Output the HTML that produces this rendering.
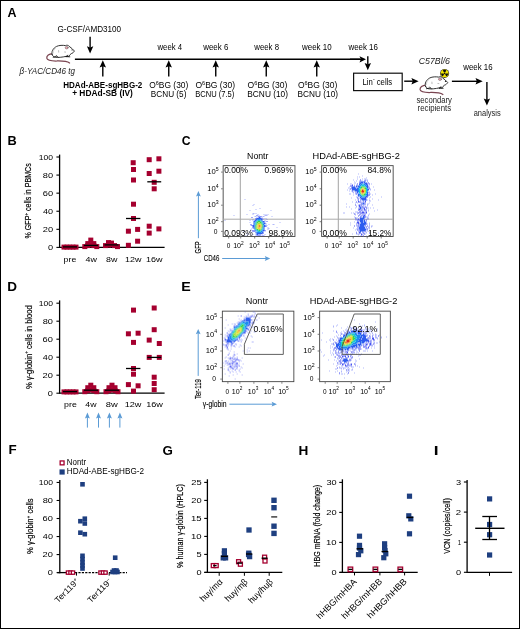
<!DOCTYPE html>
<html><head><meta charset="utf-8"><style>
html,body{margin:0;padding:0;background:#fff;}
#f{position:relative;width:520px;height:629px;box-sizing:border-box;border:1px solid #000;border-bottom-width:1.5px;overflow:hidden;background:#fff;}
svg{position:absolute;left:-1px;top:-1px;filter:blur(0.3px);}
text{font-family:'Liberation Sans', sans-serif;}
</style></head><body><div id="f">
<svg width="520" height="629" viewBox="0 0 520 629" font-family="'Liberation Sans', sans-serif">
<defs><filter id="bl" x="-5%" y="-5%" width="110%" height="110%"><feGaussianBlur stdDeviation="0.35"/></filter></defs>
<text x="7.59" y="17.40" font-size="12.0" textLength="9.04" lengthAdjust="spacingAndGlyphs" font-weight="bold">A</text>
<text x="57.49" y="31.50" font-size="8.25" textLength="63.63" lengthAdjust="spacingAndGlyphs">G-CSF/AMD3100</text>
<line x1="90.10" y1="36.80" x2="90.10" y2="47.80" stroke="#000" stroke-width="1.4"/>
<path d="M90.10,53.50 L86.90,46.30 L90.10,47.60 L93.30,46.30 Z" fill="#000"/>
<line x1="74.90" y1="59.30" x2="360.00" y2="59.30" stroke="#000" stroke-width="1.4"/>
<line x1="350.00" y1="59.30" x2="361.00" y2="59.30" stroke="#000" stroke-width="1.4"/>
<path d="M366.00,59.30 L359.50,62.40 L360.80,59.30 L359.50,56.20 Z" fill="#000"/>
<line x1="102.80" y1="76.50" x2="102.80" y2="66.00" stroke="#000" stroke-width="1.4"/>
<path d="M102.80,60.30 L106.00,67.50 L102.80,66.20 L99.60,67.50 Z" fill="#000"/>
<line x1="168.75" y1="76.50" x2="168.75" y2="66.00" stroke="#000" stroke-width="1.4"/>
<path d="M168.75,60.30 L171.95,67.50 L168.75,66.20 L165.55,67.50 Z" fill="#000"/>
<line x1="215.75" y1="76.50" x2="215.75" y2="66.00" stroke="#000" stroke-width="1.4"/>
<path d="M215.75,60.30 L218.95,67.50 L215.75,66.20 L212.55,67.50 Z" fill="#000"/>
<line x1="266.25" y1="76.50" x2="266.25" y2="66.00" stroke="#000" stroke-width="1.4"/>
<path d="M266.25,60.30 L269.45,67.50 L266.25,66.20 L263.05,67.50 Z" fill="#000"/>
<line x1="316.75" y1="76.50" x2="316.75" y2="66.00" stroke="#000" stroke-width="1.4"/>
<path d="M316.75,60.30 L319.95,67.50 L316.75,66.20 L313.55,67.50 Z" fill="#000"/>
<line x1="367.80" y1="56.20" x2="367.80" y2="64.50" stroke="#000" stroke-width="1.4"/>
<path d="M367.80,70.20 L364.60,63.00 L367.80,64.30 L371.00,63.00 Z" fill="#000"/>
<text x="157.51" y="49.90" font-size="8.25" textLength="24.52" lengthAdjust="spacingAndGlyphs">week 4</text>
<text x="203.21" y="49.90" font-size="8.25" textLength="25.14" lengthAdjust="spacingAndGlyphs">week 6</text>
<text x="254.31" y="49.90" font-size="8.25" textLength="24.73" lengthAdjust="spacingAndGlyphs">week 8</text>
<text x="302.01" y="49.90" font-size="8.25" textLength="29.60" lengthAdjust="spacingAndGlyphs">week 10</text>
<text x="348.41" y="49.90" font-size="8.25" textLength="29.54" lengthAdjust="spacingAndGlyphs">week 16</text>
<text x="149.20" y="87.80" font-size="8.25" textLength="39.12" lengthAdjust="spacingAndGlyphs">O<tspan font-size="5.42" dy="-3.28">6</tspan><tspan dy="3.28">BG (30)</tspan></text>
<text x="150.83" y="96.90" font-size="8.25" textLength="35.58" lengthAdjust="spacingAndGlyphs">BCNU (5)</text>
<text x="195.40" y="87.80" font-size="8.25" textLength="39.63" lengthAdjust="spacingAndGlyphs">O<tspan font-size="5.42" dy="-3.28">6</tspan><tspan dy="3.28">BG (30)</tspan></text>
<text x="195.18" y="96.90" font-size="8.25" textLength="39.09" lengthAdjust="spacingAndGlyphs">BCNU (7.5)</text>
<text x="247.59" y="87.80" font-size="8.25" textLength="39.74" lengthAdjust="spacingAndGlyphs">O<tspan font-size="5.42" dy="-3.28">6</tspan><tspan dy="3.28">BG (30)</tspan></text>
<text x="247.32" y="96.90" font-size="8.25" textLength="40.70" lengthAdjust="spacingAndGlyphs">BCNU (10)</text>
<text x="297.90" y="87.80" font-size="8.25" textLength="39.43" lengthAdjust="spacingAndGlyphs">O<tspan font-size="5.42" dy="-3.28">6</tspan><tspan dy="3.28">BG (30)</tspan></text>
<text x="297.62" y="96.90" font-size="8.25" textLength="40.39" lengthAdjust="spacingAndGlyphs">BCNU (10)</text>
<text x="63.26" y="87.60" font-size="8.59" textLength="79.06" lengthAdjust="spacingAndGlyphs" font-weight="bold">HDAd-ABE-sgHBG-2</text>
<text x="72.15" y="96.20" font-size="8.59" textLength="60.77" lengthAdjust="spacingAndGlyphs" font-weight="bold">+ HDAd-SB (IV)</text>
<text x="19.61" y="73.80" font-size="8.25" textLength="55.35" lengthAdjust="spacingAndGlyphs" font-style="italic" fill="#222">&#946;-YAC/CD46 tg</text>
<g transform="translate(0.00,0.00)" stroke-linecap="round" stroke-linejoin="round"><path d="M52.8,53.6 C49,53.8 46.4,55.6 46.8,58.2 C47.4,60.8 52,61.1 57,61 C62,60.9 66.5,60.8 69.6,63" fill="none" stroke="#7a4450" stroke-width="1.25"/><path d="M52.2,54.8 C51,52 53,48.2 56.6,46.4 C59,45.2 63,45.1 65.4,45.6 C67,44.9 68.6,45.3 69.1,46.3 C71,47.5 73,49.4 74.4,51 C73.6,52.4 72.6,53.3 71.3,53.6 C70,54.5 69.3,55.4 68.7,56.4 L66.4,56.3 C62,57.3 58,57.6 55.6,57.3 C54,57.2 53,56.4 52.2,54.8 Z" fill="#fff" stroke="#2a2a2a" stroke-width="0.95"/><path d="M56,47.5 C54,49 53,51 53.2,53" fill="none" stroke="#aaa" stroke-width="0.5"/><ellipse cx="66.7" cy="47.7" rx="1.5" ry="1.25" fill="#f3a9b4" stroke="#555" stroke-width="0.5"/><path d="M53.2,57.2 L56,56.6 M58,57.4 L56.5,55.6 M66,56.6 L69.8,56.8 M67.5,55.2 L66.4,56.8" fill="none" stroke="#111" stroke-width="0.9"/><path d="M58.6,50.6 L58.7,52.2 M64.6,52 L65.6,52.1" fill="none" stroke="#777" stroke-width="0.5"/><circle cx="72.1" cy="49.9" r="0.55" fill="#111"/></g>
<rect x="353.6" y="73.2" width="48.6" height="17.4" fill="#fff" stroke="#111" stroke-width="1.2"/>
<text x="362.57" y="84.60" font-size="8.25" textLength="29.61" lengthAdjust="spacingAndGlyphs">Lin<tspan font-size="5.42" dy="-3.28">-</tspan><tspan dy="3.28"> cells</tspan></text>
<line x1="404.20" y1="81.20" x2="412.90" y2="81.20" stroke="#000" stroke-width="1.4"/>
<path d="M418.60,81.20 L411.40,84.40 L412.70,81.20 L411.40,78.00 Z" fill="#000"/>
<g transform="translate(373.30,31.50)" stroke-linecap="round" stroke-linejoin="round"><path d="M52.8,53.6 C49,53.8 46.4,55.6 46.8,58.2 C47.4,60.8 52,61.1 57,61 C62,60.9 66.5,60.8 69.6,63" fill="none" stroke="#7a4450" stroke-width="1.25"/><path d="M52.2,54.8 C51,52 53,48.2 56.6,46.4 C59,45.2 63,45.1 65.4,45.6 C67,44.9 68.6,45.3 69.1,46.3 C71,47.5 73,49.4 74.4,51 C73.6,52.4 72.6,53.3 71.3,53.6 C70,54.5 69.3,55.4 68.7,56.4 L66.4,56.3 C62,57.3 58,57.6 55.6,57.3 C54,57.2 53,56.4 52.2,54.8 Z" fill="#fff" stroke="#2a2a2a" stroke-width="0.95"/><path d="M56,47.5 C54,49 53,51 53.2,53" fill="none" stroke="#aaa" stroke-width="0.5"/><ellipse cx="66.7" cy="47.7" rx="1.5" ry="1.25" fill="#f3a9b4" stroke="#555" stroke-width="0.5"/><path d="M53.2,57.2 L56,56.6 M58,57.4 L56.5,55.6 M66,56.6 L69.8,56.8 M67.5,55.2 L66.4,56.8" fill="none" stroke="#111" stroke-width="0.9"/><path d="M58.6,50.6 L58.7,52.2 M64.6,52 L65.6,52.1" fill="none" stroke="#777" stroke-width="0.5"/><circle cx="72.1" cy="49.9" r="0.55" fill="#111"/></g>
<circle cx="444.6" cy="73.4" r="4.5" fill="#222"/>
<circle cx="444.6" cy="73.4" r="3.9" fill="#f0e400"/>
<path d="M444.05,72.45 L442.80,70.28 A3.6,3.6 0 0 1 446.40,70.28 L445.15,72.45 Z" fill="#111"/>
<path d="M445.70,73.40 L448.20,73.40 A3.6,3.6 0 0 1 446.40,76.52 L445.15,74.35 Z" fill="#111"/>
<path d="M444.05,74.35 L442.80,76.52 A3.6,3.6 0 0 1 441.00,73.40 L443.50,73.40 Z" fill="#111"/>
<circle cx="444.6" cy="73.4" r="0.75" fill="#111"/>
<text x="418.71" y="64.40" font-size="8.25" textLength="31.29" lengthAdjust="spacingAndGlyphs" font-style="italic" fill="#222">C57Bl/6</text>
<text x="416.49" y="103.10" font-size="8.25" textLength="35.43" lengthAdjust="spacingAndGlyphs" fill="#222">secondary</text>
<text x="417.58" y="111.40" font-size="8.25" textLength="33.50" lengthAdjust="spacingAndGlyphs" fill="#222">recipients</text>
<line x1="451.90" y1="81.30" x2="477.00" y2="81.30" stroke="#000" stroke-width="1.4"/>
<path d="M482.70,81.30 L475.50,84.50 L476.80,81.30 L475.50,78.10 Z" fill="#000"/>
<text x="463.31" y="70.00" font-size="8.25" textLength="29.33" lengthAdjust="spacingAndGlyphs">week 16</text>
<line x1="486.90" y1="81.90" x2="486.90" y2="99.90" stroke="#000" stroke-width="1.4"/>
<path d="M486.90,105.60 L483.70,98.40 L486.90,99.70 L490.10,98.40 Z" fill="#000"/>
<text x="473.68" y="115.60" font-size="8.25" textLength="26.99" lengthAdjust="spacingAndGlyphs" fill="#222">analysis</text>
<text x="7.44" y="145.00" font-size="12.0" textLength="9.24" lengthAdjust="spacingAndGlyphs" font-weight="bold">B</text>
<line x1="59.60" y1="154.60" x2="59.60" y2="248.00" stroke="#000" stroke-width="1.3"/>
<line x1="56.40" y1="247.40" x2="59.60" y2="247.40" stroke="#000" stroke-width="1.1"/>
<text x="47.94" y="249.90" font-size="7.91" textLength="5.12" lengthAdjust="spacingAndGlyphs">0</text>
<line x1="56.40" y1="229.32" x2="59.60" y2="229.32" stroke="#000" stroke-width="1.1"/>
<text x="42.73" y="231.82" font-size="7.91" textLength="10.33" lengthAdjust="spacingAndGlyphs">20</text>
<line x1="56.40" y1="211.24" x2="59.60" y2="211.24" stroke="#000" stroke-width="1.1"/>
<text x="42.99" y="213.74" font-size="7.91" textLength="10.06" lengthAdjust="spacingAndGlyphs">40</text>
<line x1="56.40" y1="193.16" x2="59.60" y2="193.16" stroke="#000" stroke-width="1.1"/>
<text x="42.73" y="195.66" font-size="7.91" textLength="10.33" lengthAdjust="spacingAndGlyphs">60</text>
<line x1="56.40" y1="175.08" x2="59.60" y2="175.08" stroke="#000" stroke-width="1.1"/>
<text x="42.80" y="177.58" font-size="7.91" textLength="10.26" lengthAdjust="spacingAndGlyphs">80</text>
<line x1="56.40" y1="157.00" x2="59.60" y2="157.00" stroke="#000" stroke-width="1.1"/>
<text x="38.75" y="159.50" font-size="7.91" textLength="14.29" lengthAdjust="spacingAndGlyphs">100</text>
<line x1="59.60" y1="247.40" x2="164.60" y2="247.40" stroke="#000" stroke-width="1.3"/>
<text x="63.64" y="261.60" font-size="7.91" textLength="12.65" lengthAdjust="spacingAndGlyphs">pre</text>
<text x="85.60" y="261.60" font-size="7.91" textLength="11.38" lengthAdjust="spacingAndGlyphs">4w</text>
<text x="106.11" y="261.60" font-size="7.91" textLength="11.36" lengthAdjust="spacingAndGlyphs">8w</text>
<text x="124.92" y="261.60" font-size="7.91" textLength="16.46" lengthAdjust="spacingAndGlyphs">12w</text>
<text x="146.01" y="261.60" font-size="7.91" textLength="16.57" lengthAdjust="spacingAndGlyphs">16w</text>
<text transform="translate(31.10,238.20) rotate(-90)" x="-0.25" y="0" font-size="8.2" textLength="75.21" lengthAdjust="spacingAndGlyphs" stroke="#000" stroke-width="0.18">% GFP<tspan font-size="5.2" dy="-3.00">+</tspan><tspan dy="3.00"> cells in PBMCs</tspan></text>
<rect x="61.50" y="244.60" width="5" height="5" fill="#A5002F"/>
<rect x="64.50" y="244.60" width="5" height="5" fill="#A5002F"/>
<rect x="67.50" y="244.60" width="5" height="5" fill="#A5002F"/>
<rect x="70.50" y="244.60" width="5" height="5" fill="#A5002F"/>
<rect x="73.50" y="244.60" width="5" height="5" fill="#A5002F"/>
<rect x="82.30" y="244.10" width="5" height="5" fill="#A5002F"/>
<rect x="85.30" y="243.10" width="5" height="5" fill="#A5002F"/>
<rect x="88.30" y="242.10" width="5" height="5" fill="#A5002F"/>
<rect x="91.30" y="243.10" width="5" height="5" fill="#A5002F"/>
<rect x="94.30" y="244.10" width="5" height="5" fill="#A5002F"/>
<rect x="88.30" y="237.60" width="5" height="5" fill="#A5002F"/>
<rect x="85.30" y="241.10" width="5" height="5" fill="#A5002F"/>
<rect x="91.30" y="241.10" width="5" height="5" fill="#A5002F"/>
<rect x="103.00" y="243.10" width="5" height="5" fill="#A5002F"/>
<rect x="106.00" y="242.60" width="5" height="5" fill="#A5002F"/>
<rect x="109.00" y="242.10" width="5" height="5" fill="#A5002F"/>
<rect x="112.00" y="243.10" width="5" height="5" fill="#A5002F"/>
<rect x="115.00" y="244.10" width="5" height="5" fill="#A5002F"/>
<rect x="106.00" y="240.10" width="5" height="5" fill="#A5002F"/>
<rect x="109.00" y="240.60" width="5" height="5" fill="#A5002F"/>
<rect x="130.70" y="160.20" width="5" height="5" fill="#A5002F"/>
<rect x="131.00" y="167.00" width="5" height="5" fill="#A5002F"/>
<rect x="131.00" y="177.50" width="5" height="5" fill="#A5002F"/>
<rect x="131.00" y="201.70" width="5" height="5" fill="#A5002F"/>
<rect x="131.00" y="216.00" width="5" height="5" fill="#A5002F"/>
<rect x="125.90" y="228.70" width="5" height="5" fill="#A5002F"/>
<rect x="135.10" y="226.90" width="5" height="5" fill="#A5002F"/>
<rect x="135.10" y="238.70" width="5" height="5" fill="#A5002F"/>
<rect x="125.90" y="242.80" width="5" height="5" fill="#A5002F"/>
<rect x="146.70" y="157.20" width="5" height="5" fill="#A5002F"/>
<rect x="156.40" y="156.30" width="5" height="5" fill="#A5002F"/>
<rect x="146.70" y="171.00" width="5" height="5" fill="#A5002F"/>
<rect x="156.40" y="168.70" width="5" height="5" fill="#A5002F"/>
<rect x="151.70" y="179.80" width="5" height="5" fill="#A5002F"/>
<rect x="151.70" y="186.30" width="5" height="5" fill="#A5002F"/>
<rect x="146.70" y="223.70" width="5" height="5" fill="#A5002F"/>
<rect x="156.40" y="226.40" width="5" height="5" fill="#A5002F"/>
<rect x="146.70" y="230.60" width="5" height="5" fill="#A5002F"/>
<line x1="63.00" y1="246.90" x2="77.00" y2="246.90" stroke="#000" stroke-width="1.3"/>
<line x1="84.00" y1="245.40" x2="98.00" y2="245.40" stroke="#000" stroke-width="1.3"/>
<line x1="104.50" y1="244.90" x2="118.50" y2="244.90" stroke="#000" stroke-width="1.3"/>
<line x1="126.00" y1="218.50" x2="140.40" y2="218.50" stroke="#000" stroke-width="1.3"/>
<line x1="147.30" y1="181.80" x2="161.20" y2="181.80" stroke="#000" stroke-width="1.3"/>
<text x="7.19" y="290.80" font-size="12.0" textLength="9.77" lengthAdjust="spacingAndGlyphs" font-weight="bold">D</text>
<line x1="59.60" y1="300.40" x2="59.60" y2="393.80" stroke="#000" stroke-width="1.3"/>
<line x1="56.40" y1="393.20" x2="59.60" y2="393.20" stroke="#000" stroke-width="1.1"/>
<text x="47.84" y="395.70" font-size="7.91" textLength="5.12" lengthAdjust="spacingAndGlyphs">0</text>
<line x1="56.40" y1="375.20" x2="59.60" y2="375.20" stroke="#000" stroke-width="1.1"/>
<text x="42.63" y="377.70" font-size="7.91" textLength="10.33" lengthAdjust="spacingAndGlyphs">20</text>
<line x1="56.40" y1="357.20" x2="59.60" y2="357.20" stroke="#000" stroke-width="1.1"/>
<text x="42.89" y="359.70" font-size="7.91" textLength="10.06" lengthAdjust="spacingAndGlyphs">40</text>
<line x1="56.40" y1="339.20" x2="59.60" y2="339.20" stroke="#000" stroke-width="1.1"/>
<text x="42.63" y="341.70" font-size="7.91" textLength="10.33" lengthAdjust="spacingAndGlyphs">60</text>
<line x1="56.40" y1="321.20" x2="59.60" y2="321.20" stroke="#000" stroke-width="1.1"/>
<text x="42.70" y="323.70" font-size="7.91" textLength="10.26" lengthAdjust="spacingAndGlyphs">80</text>
<line x1="56.40" y1="303.20" x2="59.60" y2="303.20" stroke="#000" stroke-width="1.1"/>
<text x="38.65" y="305.70" font-size="7.91" textLength="14.29" lengthAdjust="spacingAndGlyphs">100</text>
<line x1="59.60" y1="393.20" x2="164.60" y2="393.20" stroke="#000" stroke-width="1.3"/>
<text x="64.13" y="406.50" font-size="7.91" textLength="12.76" lengthAdjust="spacingAndGlyphs">pre</text>
<text x="85.30" y="406.50" font-size="7.91" textLength="11.18" lengthAdjust="spacingAndGlyphs">4w</text>
<text x="105.79" y="406.50" font-size="7.91" textLength="11.98" lengthAdjust="spacingAndGlyphs">8w</text>
<text x="124.70" y="406.50" font-size="7.91" textLength="16.77" lengthAdjust="spacingAndGlyphs">12w</text>
<text x="146.20" y="406.50" font-size="7.91" textLength="16.77" lengthAdjust="spacingAndGlyphs">16w</text>
<text transform="translate(31.50,388.80) rotate(-90)" x="-0.22" y="0" font-size="8.6" textLength="83.61" lengthAdjust="spacingAndGlyphs" stroke="#000" stroke-width="0.18">% &#947;-globin<tspan font-size="5.4" dy="-3.20">+</tspan><tspan dy="3.20"> cells in blood</tspan></text>
<rect x="61.50" y="389.40" width="5" height="5" fill="#A5002F"/>
<rect x="64.50" y="389.40" width="5" height="5" fill="#A5002F"/>
<rect x="67.50" y="389.40" width="5" height="5" fill="#A5002F"/>
<rect x="70.50" y="389.40" width="5" height="5" fill="#A5002F"/>
<rect x="73.50" y="389.40" width="5" height="5" fill="#A5002F"/>
<rect x="82.30" y="389.20" width="5" height="5" fill="#A5002F"/>
<rect x="85.30" y="388.20" width="5" height="5" fill="#A5002F"/>
<rect x="88.30" y="387.20" width="5" height="5" fill="#A5002F"/>
<rect x="91.30" y="388.20" width="5" height="5" fill="#A5002F"/>
<rect x="94.30" y="389.20" width="5" height="5" fill="#A5002F"/>
<rect x="88.30" y="382.70" width="5" height="5" fill="#A5002F"/>
<rect x="85.30" y="385.20" width="5" height="5" fill="#A5002F"/>
<rect x="91.30" y="385.20" width="5" height="5" fill="#A5002F"/>
<rect x="103.50" y="389.20" width="5" height="5" fill="#A5002F"/>
<rect x="106.50" y="388.20" width="5" height="5" fill="#A5002F"/>
<rect x="109.50" y="387.20" width="5" height="5" fill="#A5002F"/>
<rect x="112.50" y="388.20" width="5" height="5" fill="#A5002F"/>
<rect x="115.50" y="389.20" width="5" height="5" fill="#A5002F"/>
<rect x="109.50" y="382.70" width="5" height="5" fill="#A5002F"/>
<rect x="106.50" y="385.20" width="5" height="5" fill="#A5002F"/>
<rect x="112.50" y="385.20" width="5" height="5" fill="#A5002F"/>
<rect x="131.00" y="307.60" width="5" height="5" fill="#A5002F"/>
<rect x="125.90" y="331.30" width="5" height="5" fill="#A5002F"/>
<rect x="135.60" y="330.70" width="5" height="5" fill="#A5002F"/>
<rect x="131.00" y="339.90" width="5" height="5" fill="#A5002F"/>
<rect x="131.00" y="366.00" width="5" height="5" fill="#A5002F"/>
<rect x="131.00" y="371.70" width="5" height="5" fill="#A5002F"/>
<rect x="125.90" y="382.10" width="5" height="5" fill="#A5002F"/>
<rect x="135.60" y="383.30" width="5" height="5" fill="#A5002F"/>
<rect x="131.00" y="388.60" width="5" height="5" fill="#A5002F"/>
<rect x="151.70" y="305.50" width="5" height="5" fill="#A5002F"/>
<rect x="151.70" y="327.20" width="5" height="5" fill="#A5002F"/>
<rect x="146.70" y="337.60" width="5" height="5" fill="#A5002F"/>
<rect x="156.80" y="341.00" width="5" height="5" fill="#A5002F"/>
<rect x="146.70" y="354.90" width="5" height="5" fill="#A5002F"/>
<rect x="156.80" y="354.90" width="5" height="5" fill="#A5002F"/>
<rect x="151.70" y="374.70" width="5" height="5" fill="#A5002F"/>
<rect x="151.70" y="381.00" width="5" height="5" fill="#A5002F"/>
<rect x="151.70" y="387.20" width="5" height="5" fill="#A5002F"/>
<line x1="63.00" y1="391.60" x2="77.00" y2="391.60" stroke="#000" stroke-width="1.3"/>
<line x1="84.00" y1="390.20" x2="98.00" y2="390.20" stroke="#000" stroke-width="1.3"/>
<line x1="105.00" y1="390.20" x2="119.00" y2="390.20" stroke="#000" stroke-width="1.3"/>
<line x1="126.00" y1="368.50" x2="140.40" y2="368.50" stroke="#000" stroke-width="1.3"/>
<line x1="147.30" y1="357.40" x2="161.20" y2="357.40" stroke="#000" stroke-width="1.3"/>
<line x1="87.40" y1="427.60" x2="87.40" y2="417.10" stroke="#5B9BD5" stroke-width="1.0"/>
<path d="M87.40,412.40 L89.90,418.60 L87.40,417.60 L84.90,418.60 Z" fill="#5B9BD5"/>
<line x1="98.50" y1="427.60" x2="98.50" y2="417.10" stroke="#5B9BD5" stroke-width="1.0"/>
<path d="M98.50,412.40 L101.00,418.60 L98.50,417.60 L96.00,418.60 Z" fill="#5B9BD5"/>
<line x1="109.40" y1="427.60" x2="109.40" y2="417.10" stroke="#5B9BD5" stroke-width="1.0"/>
<path d="M109.40,412.40 L111.90,418.60 L109.40,417.60 L106.90,418.60 Z" fill="#5B9BD5"/>
<line x1="119.90" y1="427.60" x2="119.90" y2="417.10" stroke="#5B9BD5" stroke-width="1.0"/>
<path d="M119.90,412.40 L122.40,418.60 L119.90,417.60 L117.40,418.60 Z" fill="#5B9BD5"/>
<text x="181.80" y="145.30" font-size="12.0" textLength="8.84" lengthAdjust="spacingAndGlyphs" font-weight="bold">C</text>
<text x="247.08" y="159.40" font-size="9.04" textLength="21.36" lengthAdjust="spacingAndGlyphs">Nontr</text>
<text x="312.54" y="159.40" font-size="9.04" textLength="87.32" lengthAdjust="spacingAndGlyphs">HDAd-ABE-sgHBG-2</text>
<rect x="223.15" y="165.65" width="71.80" height="70.80" fill="none" stroke="#444" stroke-width="0.9"/>
<line x1="221.10" y1="172.10" x2="222.70" y2="172.10" stroke="#444" stroke-width="0.7"/>
<line x1="221.10" y1="188.80" x2="222.70" y2="188.80" stroke="#444" stroke-width="0.7"/>
<line x1="221.10" y1="205.20" x2="222.70" y2="205.20" stroke="#444" stroke-width="0.7"/>
<line x1="221.10" y1="221.70" x2="222.70" y2="221.70" stroke="#444" stroke-width="0.7"/>
<line x1="221.10" y1="231.40" x2="222.70" y2="231.40" stroke="#444" stroke-width="0.7"/>
<line x1="228.70" y1="236.90" x2="228.70" y2="238.50" stroke="#444" stroke-width="0.7"/>
<line x1="240.70" y1="236.90" x2="240.70" y2="238.50" stroke="#444" stroke-width="0.7"/>
<line x1="254.70" y1="236.90" x2="254.70" y2="238.50" stroke="#444" stroke-width="0.7"/>
<line x1="268.70" y1="236.90" x2="268.70" y2="238.50" stroke="#444" stroke-width="0.7"/>
<line x1="282.70" y1="236.90" x2="282.70" y2="238.50" stroke="#444" stroke-width="0.7"/>
<line x1="240.30" y1="165.70" x2="240.30" y2="236.40" stroke="#999" stroke-width="0.9"/>
<line x1="223.20" y1="219.20" x2="294.90" y2="219.20" stroke="#aaa" stroke-width="1.0"/>
<text x="207.22" y="174.30" font-size="7.68" textLength="11.40" lengthAdjust="spacingAndGlyphs">10<tspan font-size="5.2" dy="-3.28">5</tspan></text>
<text x="207.22" y="191.00" font-size="7.68" textLength="11.33" lengthAdjust="spacingAndGlyphs">10<tspan font-size="5.2" dy="-3.28">4</tspan></text>
<text x="207.22" y="207.40" font-size="7.68" textLength="11.41" lengthAdjust="spacingAndGlyphs">10<tspan font-size="5.2" dy="-3.28">3</tspan></text>
<text x="207.21" y="223.90" font-size="7.68" textLength="11.45" lengthAdjust="spacingAndGlyphs">10<tspan font-size="5.2" dy="-3.28">2</tspan></text>
<text x="213.84" y="233.60" font-size="7.68" textLength="3.72" lengthAdjust="spacingAndGlyphs">0</text>
<text x="226.80" y="248.10" font-size="7.68" textLength="3.61" lengthAdjust="spacingAndGlyphs">0</text>
<text x="233.16" y="248.10" font-size="7.68" textLength="10.58" lengthAdjust="spacingAndGlyphs">10<tspan font-size="5.2" dy="-3.28">2</tspan></text>
<text x="249.06" y="248.10" font-size="7.68" textLength="10.55" lengthAdjust="spacingAndGlyphs">10<tspan font-size="5.2" dy="-3.28">3</tspan></text>
<text x="264.76" y="248.10" font-size="7.68" textLength="10.48" lengthAdjust="spacingAndGlyphs">10<tspan font-size="5.2" dy="-3.28">4</tspan></text>
<text x="279.26" y="248.10" font-size="7.68" textLength="10.54" lengthAdjust="spacingAndGlyphs">10<tspan font-size="5.2" dy="-3.28">5</tspan></text>
<rect x="321.65" y="165.65" width="71.50" height="70.80" fill="none" stroke="#444" stroke-width="0.9"/>
<line x1="319.60" y1="172.10" x2="321.20" y2="172.10" stroke="#444" stroke-width="0.7"/>
<line x1="319.60" y1="188.80" x2="321.20" y2="188.80" stroke="#444" stroke-width="0.7"/>
<line x1="319.60" y1="205.20" x2="321.20" y2="205.20" stroke="#444" stroke-width="0.7"/>
<line x1="319.60" y1="221.70" x2="321.20" y2="221.70" stroke="#444" stroke-width="0.7"/>
<line x1="319.60" y1="231.40" x2="321.20" y2="231.40" stroke="#444" stroke-width="0.7"/>
<line x1="327.20" y1="236.90" x2="327.20" y2="238.50" stroke="#444" stroke-width="0.7"/>
<line x1="339.20" y1="236.90" x2="339.20" y2="238.50" stroke="#444" stroke-width="0.7"/>
<line x1="353.20" y1="236.90" x2="353.20" y2="238.50" stroke="#444" stroke-width="0.7"/>
<line x1="367.20" y1="236.90" x2="367.20" y2="238.50" stroke="#444" stroke-width="0.7"/>
<line x1="381.20" y1="236.90" x2="381.20" y2="238.50" stroke="#444" stroke-width="0.7"/>
<line x1="338.30" y1="165.70" x2="338.30" y2="236.40" stroke="#999" stroke-width="0.9"/>
<line x1="321.70" y1="219.20" x2="393.10" y2="219.20" stroke="#aaa" stroke-width="1.0"/>
<text x="305.32" y="174.30" font-size="7.68" textLength="11.40" lengthAdjust="spacingAndGlyphs">10<tspan font-size="5.2" dy="-3.28">5</tspan></text>
<text x="305.32" y="191.00" font-size="7.68" textLength="11.33" lengthAdjust="spacingAndGlyphs">10<tspan font-size="5.2" dy="-3.28">4</tspan></text>
<text x="305.32" y="207.40" font-size="7.68" textLength="11.41" lengthAdjust="spacingAndGlyphs">10<tspan font-size="5.2" dy="-3.28">3</tspan></text>
<text x="305.31" y="223.90" font-size="7.68" textLength="11.45" lengthAdjust="spacingAndGlyphs">10<tspan font-size="5.2" dy="-3.28">2</tspan></text>
<text x="311.94" y="233.60" font-size="7.68" textLength="3.72" lengthAdjust="spacingAndGlyphs">0</text>
<text x="324.80" y="248.10" font-size="7.68" textLength="3.61" lengthAdjust="spacingAndGlyphs">0</text>
<text x="331.26" y="248.10" font-size="7.68" textLength="10.58" lengthAdjust="spacingAndGlyphs">10<tspan font-size="5.2" dy="-3.28">2</tspan></text>
<text x="347.26" y="248.10" font-size="7.68" textLength="10.55" lengthAdjust="spacingAndGlyphs">10<tspan font-size="5.2" dy="-3.28">3</tspan></text>
<text x="362.86" y="248.10" font-size="7.68" textLength="10.48" lengthAdjust="spacingAndGlyphs">10<tspan font-size="5.2" dy="-3.28">4</tspan></text>
<text x="377.26" y="248.10" font-size="7.68" textLength="10.54" lengthAdjust="spacingAndGlyphs">10<tspan font-size="5.2" dy="-3.28">5</tspan></text>
<g filter="url(#bl)">
<path fill="#4a55f2" fill-opacity="0.42" d="M244.5 199.0h1v1h-1zM253.5 204.0h1v1h-1zM252.5 205.0h1v1h-1zM259.5 208.0h1v1h-1zM255.5 209.0h1v1h-1zM249.5 210.0h1v1h-1zM270.5 210.0h1v1h-1zM252.5 213.0h2v1h-2zM255.5 213.0h1v1h-1zM246.5 214.0h1v1h-1zM252.5 214.0h1v1h-1zM257.5 214.0h1v1h-1zM263.5 214.0h1v1h-1zM265.5 214.0h1v1h-1zM267.5 214.0h1v1h-1zM233.5 215.0h1v1h-1zM258.5 215.0h1v1h-1zM264.5 215.0h3v1h-3zM254.5 216.0h2v1h-2zM257.5 216.0h1v1h-1zM259.5 216.0h1v1h-1zM262.5 216.0h2v1h-2zM271.5 216.0h1v1h-1zM256.5 217.0h1v1h-1zM261.5 217.0h1v1h-1zM263.5 218.0h1v1h-1zM265.5 218.0h1v1h-1zM252.5 219.0h1v1h-1zM262.5 219.0h1v1h-1zM266.5 219.0h1v1h-1zM224.5 220.0h1v1h-1zM249.5 220.0h1v1h-1zM252.5 220.0h1v1h-1zM264.5 220.0h1v1h-1zM264.5 221.0h1v1h-1zM249.5 222.0h1v1h-1zM264.5 222.0h1v1h-1zM279.5 222.0h1v1h-1zM265.5 223.0h1v1h-1zM265.5 224.0h1v1h-1zM268.5 224.0h1v1h-1zM272.5 224.0h2v1h-2zM250.5 225.0h1v1h-1zM265.5 225.0h2v1h-2zM267.5 227.0h1v1h-1zM276.5 227.0h1v1h-1zM251.5 228.0h1v1h-1zM267.5 228.0h2v1h-2zM250.5 229.0h1v1h-1zM267.5 229.0h1v1h-1zM251.5 230.0h1v1h-1zM253.5 230.0h1v1h-1zM243.5 231.0h1v1h-1zM249.5 231.0h1v1h-1zM253.5 231.0h1v1h-1zM264.5 231.0h1v1h-1zM251.5 232.0h1v1h-1zM246.5 233.0h1v1h-1zM255.5 233.0h1v1h-1zM247.5 234.0h1v1h-1zM252.5 234.0h1v1h-1zM255.5 234.0h1v1h-1zM261.5 234.0h1v1h-1zM264.5 234.0h1v1h-1zM245.5 235.0h1v1h-1zM255.5 235.0h2v1h-2zM258.5 235.0h1v1h-1zM261.5 235.0h3v1h-3z"/>
<path fill="#4a55f2" d="M256.5 215.0h1v1h-1zM258.5 216.0h1v1h-1zM260.5 216.0h1v1h-1zM251.5 217.0h1v1h-1zM255.5 218.0h1v1h-1zM261.5 218.0h1v1h-1zM266.5 221.0h1v1h-1zM250.5 224.0h1v1h-1zM251.5 225.0h1v1h-1zM265.5 226.0h1v1h-1zM252.5 227.0h1v1h-1zM252.5 230.0h1v1h-1zM264.5 230.0h1v1h-1zM252.5 231.0h1v1h-1zM262.5 233.0h1v1h-1zM257.5 235.0h1v1h-1zM259.5 235.0h1v1h-1z"/>
<path fill="#2f5cf0" d="M258.5 217.0h2v1h-2zM256.5 218.0h5v1h-5zM255.5 219.0h2v1h-2zM260.5 219.0h2v1h-2zM254.5 220.0h2v1h-2zM261.5 220.0h1v1h-1zM253.5 221.0h2v1h-2zM262.5 221.0h2v1h-2zM253.5 222.0h1v1h-1zM263.5 222.0h1v1h-1zM253.5 223.0h1v1h-1zM263.5 223.0h2v1h-2zM253.5 224.0h1v1h-1zM252.5 225.0h2v1h-2zM263.5 225.0h2v1h-2zM252.5 226.0h2v1h-2zM263.5 226.0h2v1h-2zM253.5 227.0h1v1h-1zM263.5 227.0h1v1h-1zM253.5 228.0h1v1h-1zM263.5 228.0h1v1h-1zM263.5 229.0h1v1h-1zM254.5 230.0h1v1h-1zM262.5 230.0h2v1h-2zM254.5 231.0h1v1h-1zM262.5 231.0h1v1h-1zM255.5 232.0h1v1h-1zM261.5 232.0h2v1h-2zM256.5 233.0h6v1h-6zM256.5 234.0h2v1h-2zM259.5 234.0h1v1h-1z"/>
<path fill="#1f8cf0" d="M257.5 219.0h3v1h-3zM256.5 220.0h1v1h-1zM260.5 220.0h1v1h-1zM255.5 221.0h1v1h-1zM261.5 221.0h1v1h-1zM254.5 222.0h1v1h-1zM262.5 222.0h1v1h-1zM254.5 223.0h1v1h-1zM262.5 223.0h1v1h-1zM254.5 224.0h1v1h-1zM262.5 224.0h2v1h-2zM254.5 225.0h1v1h-1zM254.5 226.0h1v1h-1zM262.5 226.0h1v1h-1zM254.5 227.0h1v1h-1zM262.5 227.0h1v1h-1zM254.5 228.0h1v1h-1zM262.5 228.0h1v1h-1zM254.5 229.0h1v1h-1zM262.5 229.0h1v1h-1zM255.5 230.0h1v1h-1zM261.5 230.0h1v1h-1zM256.5 231.0h1v1h-1zM260.5 231.0h2v1h-2zM256.5 232.0h5v1h-5z"/>
<path fill="#1cc6d6" d="M257.5 220.0h3v1h-3zM256.5 221.0h1v1h-1zM260.5 221.0h1v1h-1zM255.5 222.0h1v1h-1zM261.5 222.0h1v1h-1zM255.5 223.0h1v1h-1zM261.5 223.0h1v1h-1zM255.5 224.0h1v1h-1zM262.5 225.0h1v1h-1zM261.5 228.0h1v1h-1zM255.5 229.0h1v1h-1zM261.5 229.0h1v1h-1zM256.5 230.0h2v1h-2zM260.5 230.0h1v1h-1zM257.5 231.0h3v1h-3z"/>
<path fill="#3ad24c" d="M257.5 221.0h3v1h-3zM256.5 222.0h2v1h-2zM259.5 222.0h2v1h-2zM256.5 223.0h1v1h-1zM260.5 223.0h1v1h-1zM256.5 224.0h1v1h-1zM261.5 224.0h1v1h-1zM255.5 225.0h1v1h-1zM261.5 225.0h1v1h-1zM255.5 226.0h1v1h-1zM261.5 226.0h1v1h-1zM255.5 227.0h1v1h-1zM261.5 227.0h1v1h-1zM255.5 228.0h1v1h-1zM256.5 229.0h2v1h-2zM260.5 229.0h1v1h-1zM258.5 230.0h2v1h-2z"/>
<path fill="#a6e23a" d="M258.5 222.0h1v1h-1zM257.5 223.0h3v1h-3zM260.5 224.0h1v1h-1zM256.5 225.0h1v1h-1zM256.5 226.0h1v1h-1zM256.5 227.0h1v1h-1zM260.5 227.0h1v1h-1zM256.5 228.0h1v1h-1zM260.5 228.0h1v1h-1zM258.5 229.0h2v1h-2z"/>
<path fill="#f2d82c" d="M257.5 224.0h3v1h-3zM257.5 225.0h1v1h-1zM260.5 225.0h1v1h-1zM257.5 226.0h1v1h-1zM260.5 226.0h1v1h-1zM257.5 227.0h1v1h-1zM259.5 227.0h1v1h-1zM257.5 228.0h3v1h-3z"/>
<path fill="#f08a22" d="M258.5 225.0h2v1h-2zM258.5 226.0h2v1h-2zM258.5 227.0h1v1h-1z"/>
<path fill="#4a55f2" fill-opacity="0.42" d="M358.0 173.5h1v1h-1zM362.0 175.5h1v1h-1zM357.0 176.5h1v1h-1zM359.0 176.5h1v1h-1zM366.0 177.5h1v1h-1zM357.0 178.5h1v1h-1zM362.0 178.5h1v1h-1zM364.0 178.5h2v1h-2zM353.0 179.5h1v1h-1zM365.0 179.5h3v1h-3zM356.0 180.5h1v1h-1zM359.0 180.5h4v1h-4zM367.0 180.5h1v1h-1zM354.0 181.5h1v1h-1zM359.0 181.5h1v1h-1zM367.0 181.5h1v1h-1zM355.0 182.5h1v1h-1zM347.0 183.5h1v1h-1zM350.0 183.5h2v1h-2zM354.0 183.5h1v1h-1zM371.0 183.5h1v1h-1zM356.0 184.5h1v1h-1zM368.0 184.5h1v1h-1zM369.0 185.5h1v1h-1zM349.0 186.5h1v1h-1zM351.0 186.5h1v1h-1zM355.0 186.5h1v1h-1zM373.0 186.5h1v1h-1zM348.0 187.5h1v1h-1zM349.0 188.5h1v1h-1zM351.0 188.5h1v1h-1zM369.0 188.5h2v1h-2zM347.0 189.5h1v1h-1zM370.0 189.5h1v1h-1zM374.0 189.5h1v1h-1zM349.0 190.5h1v1h-1zM351.0 190.5h1v1h-1zM354.0 190.5h1v1h-1zM352.0 191.5h2v1h-2zM355.0 191.5h2v1h-2zM368.0 191.5h2v1h-2zM353.0 192.5h1v1h-1zM355.0 192.5h2v1h-2zM368.0 192.5h2v1h-2zM349.0 193.5h2v1h-2zM355.0 193.5h1v1h-1zM369.0 193.5h2v1h-2zM375.0 193.5h1v1h-1zM353.0 194.5h1v1h-1zM357.0 194.5h1v1h-1zM372.0 194.5h1v1h-1zM368.0 195.5h1v1h-1zM356.0 196.5h3v1h-3zM370.0 196.5h1v1h-1zM381.0 196.5h1v1h-1zM351.0 197.5h1v1h-1zM359.0 197.5h1v1h-1zM366.0 197.5h1v1h-1zM369.0 197.5h1v1h-1zM366.0 198.5h1v1h-1zM372.0 198.5h1v1h-1zM355.0 199.5h1v1h-1zM357.0 199.5h2v1h-2zM361.0 199.5h1v1h-1zM367.0 199.5h1v1h-1zM369.0 199.5h1v1h-1zM378.0 199.5h1v1h-1zM369.0 200.5h2v1h-2zM352.0 201.5h1v1h-1zM361.0 201.5h4v1h-4zM355.0 202.5h1v1h-1zM357.0 202.5h1v1h-1zM361.0 202.5h2v1h-2zM364.0 202.5h2v1h-2zM369.0 202.5h1v1h-1zM346.0 203.5h1v1h-1zM360.0 203.5h1v1h-1zM365.0 203.5h1v1h-1zM367.0 203.5h2v1h-2zM358.0 204.5h1v1h-1zM360.0 204.5h2v1h-2zM363.0 204.5h1v1h-1zM365.0 204.5h1v1h-1zM367.0 204.5h1v1h-1zM372.0 204.5h1v1h-1zM356.0 205.5h1v1h-1zM358.0 205.5h1v1h-1zM360.0 205.5h1v1h-1zM362.0 205.5h3v1h-3zM367.0 205.5h1v1h-1zM346.0 206.5h1v1h-1zM349.0 206.5h1v1h-1zM356.0 206.5h1v1h-1zM363.0 206.5h1v1h-1zM366.0 206.5h1v1h-1zM355.0 207.5h1v1h-1zM358.0 207.5h2v1h-2zM362.0 207.5h1v1h-1zM367.0 207.5h2v1h-2zM370.0 207.5h1v1h-1zM373.0 207.5h1v1h-1zM351.0 208.5h1v1h-1zM358.0 208.5h1v1h-1zM362.0 208.5h1v1h-1zM366.0 208.5h1v1h-1zM360.0 209.5h1v1h-1zM362.0 209.5h2v1h-2zM366.0 209.5h1v1h-1zM368.0 209.5h1v1h-1zM377.0 209.5h1v1h-1zM360.0 210.5h3v1h-3zM364.0 210.5h3v1h-3zM368.0 210.5h1v1h-1zM374.0 210.5h1v1h-1zM355.0 211.5h3v1h-3zM365.0 211.5h1v1h-1zM343.0 212.5h2v1h-2zM351.0 212.5h1v1h-1zM353.0 212.5h1v1h-1zM357.0 212.5h1v1h-1zM359.0 212.5h2v1h-2zM365.0 212.5h1v1h-1zM355.0 213.5h1v1h-1zM357.0 213.5h1v1h-1zM361.0 213.5h3v1h-3zM365.0 213.5h1v1h-1zM369.0 213.5h1v1h-1zM355.0 214.5h1v1h-1zM362.0 214.5h2v1h-2zM365.0 214.5h1v1h-1zM368.0 214.5h1v1h-1zM360.0 215.5h1v1h-1zM362.0 215.5h1v1h-1zM365.0 215.5h1v1h-1zM368.0 215.5h1v1h-1zM354.0 216.5h1v1h-1zM366.0 216.5h2v1h-2zM356.0 217.5h2v1h-2zM359.0 217.5h1v1h-1zM367.0 217.5h2v1h-2zM355.0 218.5h2v1h-2zM367.0 218.5h2v1h-2zM355.0 219.5h2v1h-2zM365.0 219.5h1v1h-1zM357.0 220.5h1v1h-1zM359.0 220.5h1v1h-1zM366.0 220.5h1v1h-1zM354.0 221.5h1v1h-1zM366.0 221.5h1v1h-1zM350.0 222.5h1v1h-1zM356.0 222.5h1v1h-1zM359.0 222.5h1v1h-1zM366.0 222.5h1v1h-1zM369.0 222.5h1v1h-1zM356.0 223.5h1v1h-1zM359.0 223.5h1v1h-1zM367.0 223.5h1v1h-1zM369.0 223.5h1v1h-1zM350.0 224.5h1v1h-1zM356.0 224.5h4v1h-4zM369.0 224.5h1v1h-1zM356.0 225.5h2v1h-2zM359.0 225.5h1v1h-1zM365.0 225.5h1v1h-1zM369.0 225.5h1v1h-1zM371.0 225.5h2v1h-2zM357.0 226.5h2v1h-2zM365.0 226.5h1v1h-1zM368.0 226.5h2v1h-2zM371.0 226.5h1v1h-1zM353.0 227.5h1v1h-1zM357.0 227.5h2v1h-2zM366.0 227.5h1v1h-1zM368.0 227.5h2v1h-2zM356.0 228.5h3v1h-3zM366.0 228.5h1v1h-1zM369.0 228.5h1v1h-1zM355.0 229.5h1v1h-1zM358.0 229.5h1v1h-1zM366.0 229.5h2v1h-2zM358.0 230.5h2v1h-2zM367.0 230.5h1v1h-1zM356.0 231.5h1v1h-1zM358.0 231.5h1v1h-1zM363.0 231.5h1v1h-1zM365.0 231.5h2v1h-2zM364.0 232.5h1v1h-1zM366.0 232.5h1v1h-1zM378.0 232.5h1v1h-1zM352.0 233.5h1v1h-1zM356.0 233.5h4v1h-4zM362.0 233.5h2v1h-2zM365.0 233.5h1v1h-1zM358.0 234.5h1v1h-1zM362.0 234.5h1v1h-1zM360.0 235.5h1v1h-1zM366.0 235.5h1v1h-1z"/>
<path fill="#4a55f2" d="M360.0 179.5h1v1h-1zM364.0 180.5h2v1h-2zM360.0 181.5h1v1h-1zM359.0 182.5h1v1h-1zM368.0 182.5h1v1h-1zM357.0 183.5h1v1h-1zM367.0 183.5h1v1h-1zM369.0 183.5h1v1h-1zM352.0 184.5h1v1h-1zM350.0 185.5h3v1h-3zM354.0 185.5h1v1h-1zM356.0 185.5h1v1h-1zM356.0 186.5h1v1h-1zM368.0 186.5h1v1h-1zM351.0 187.5h1v1h-1zM369.0 187.5h1v1h-1zM350.0 188.5h1v1h-1zM352.0 190.5h1v1h-1zM356.0 193.5h1v1h-1zM368.0 194.5h2v1h-2zM367.0 196.5h1v1h-1zM357.0 197.5h1v1h-1zM358.0 198.5h1v1h-1zM360.0 199.5h1v1h-1zM366.0 199.5h1v1h-1zM358.0 200.5h1v1h-1zM363.0 200.5h1v1h-1zM365.0 200.5h1v1h-1zM356.0 201.5h1v1h-1zM358.0 201.5h3v1h-3zM365.0 201.5h1v1h-1zM361.0 203.5h1v1h-1zM364.0 203.5h1v1h-1zM355.0 204.5h1v1h-1zM359.0 204.5h1v1h-1zM359.0 205.5h1v1h-1zM361.0 205.5h1v1h-1zM359.0 206.5h1v1h-1zM362.0 206.5h1v1h-1zM365.0 206.5h1v1h-1zM363.0 207.5h2v1h-2zM366.0 207.5h1v1h-1zM359.0 208.5h1v1h-1zM364.0 208.5h1v1h-1zM358.0 209.5h2v1h-2zM361.0 209.5h1v1h-1zM364.0 209.5h2v1h-2zM359.0 211.5h2v1h-2zM362.0 211.5h2v1h-2zM366.0 211.5h1v1h-1zM358.0 212.5h1v1h-1zM361.0 212.5h4v1h-4zM366.0 212.5h1v1h-1zM354.0 213.5h1v1h-1zM360.0 213.5h1v1h-1zM359.0 214.5h1v1h-1zM364.0 214.5h1v1h-1zM358.0 215.5h1v1h-1zM361.0 215.5h1v1h-1zM364.0 215.5h1v1h-1zM360.0 216.5h1v1h-1zM365.0 216.5h1v1h-1zM355.0 217.5h1v1h-1zM364.0 217.5h1v1h-1zM358.0 218.5h1v1h-1zM357.0 219.5h3v1h-3zM366.0 219.5h1v1h-1zM357.0 221.5h2v1h-2zM357.0 222.5h2v1h-2zM358.0 223.5h1v1h-1zM366.0 223.5h1v1h-1zM365.0 224.5h1v1h-1zM354.0 225.5h1v1h-1zM358.0 225.5h1v1h-1zM367.0 225.5h1v1h-1zM366.0 226.5h1v1h-1zM367.0 228.5h1v1h-1zM357.0 229.5h1v1h-1zM359.0 229.5h1v1h-1zM365.0 230.5h1v1h-1zM359.0 231.5h1v1h-1zM362.0 231.5h1v1h-1zM356.0 232.5h1v1h-1zM359.0 232.5h2v1h-2zM363.0 232.5h1v1h-1zM369.0 232.5h1v1h-1zM361.0 233.5h1v1h-1zM364.0 233.5h1v1h-1zM361.0 234.5h1v1h-1zM363.0 235.5h1v1h-1z"/>
<path fill="#2f5cf0" d="M361.0 181.5h4v1h-4zM360.0 182.5h3v1h-3zM364.0 182.5h3v1h-3zM359.0 183.5h2v1h-2zM365.0 183.5h2v1h-2zM359.0 184.5h1v1h-1zM366.0 184.5h2v1h-2zM357.0 185.5h2v1h-2zM367.0 185.5h1v1h-1zM352.0 186.5h3v1h-3zM358.0 186.5h1v1h-1zM367.0 186.5h1v1h-1zM352.0 187.5h4v1h-4zM357.0 187.5h1v1h-1zM367.0 187.5h1v1h-1zM352.0 188.5h6v1h-6zM368.0 188.5h1v1h-1zM352.0 189.5h6v1h-6zM368.0 189.5h1v1h-1zM355.0 190.5h3v1h-3zM357.0 191.5h1v1h-1zM367.0 191.5h1v1h-1zM357.0 192.5h1v1h-1zM367.0 192.5h1v1h-1zM358.0 193.5h1v1h-1zM367.0 193.5h1v1h-1zM358.0 194.5h1v1h-1zM367.0 194.5h1v1h-1zM358.0 195.5h2v1h-2zM366.0 195.5h2v1h-2zM360.0 196.5h1v1h-1zM365.0 196.5h2v1h-2zM360.0 197.5h6v1h-6zM361.0 198.5h5v1h-5zM362.0 199.5h4v1h-4zM363.0 202.5h1v1h-1zM362.0 203.5h2v1h-2zM360.0 206.5h1v1h-1zM360.0 207.5h2v1h-2zM360.0 208.5h1v1h-1zM363.0 215.5h1v1h-1zM363.0 216.5h2v1h-2zM360.0 217.5h4v1h-4zM360.0 218.5h4v1h-4zM360.0 219.5h3v1h-3zM364.0 219.5h1v1h-1zM360.0 220.5h5v1h-5zM360.0 221.5h3v1h-3zM364.0 221.5h2v1h-2zM361.0 222.5h5v1h-5zM360.0 223.5h6v1h-6zM360.0 224.5h5v1h-5zM360.0 225.5h4v1h-4zM359.0 226.5h6v1h-6zM359.0 227.5h6v1h-6zM359.0 228.5h7v1h-7zM360.0 229.5h6v1h-6zM360.0 230.5h5v1h-5zM360.0 231.5h1v1h-1z"/>
<path fill="#1f8cf0" d="M361.0 183.5h4v1h-4zM360.0 184.5h2v1h-2zM364.0 184.5h2v1h-2zM359.0 185.5h2v1h-2zM365.0 185.5h2v1h-2zM359.0 186.5h1v1h-1zM366.0 186.5h1v1h-1zM358.0 187.5h2v1h-2zM358.0 188.5h1v1h-1zM367.0 188.5h1v1h-1zM358.0 189.5h1v1h-1zM367.0 189.5h1v1h-1zM358.0 190.5h1v1h-1zM367.0 190.5h1v1h-1zM358.0 191.5h1v1h-1zM359.0 193.5h1v1h-1zM366.0 193.5h1v1h-1zM359.0 194.5h2v1h-2zM366.0 194.5h1v1h-1zM360.0 195.5h2v1h-2zM365.0 195.5h1v1h-1zM361.0 196.5h4v1h-4z"/>
<path fill="#1cc6d6" d="M362.0 184.5h2v1h-2zM361.0 185.5h4v1h-4zM360.0 186.5h1v1h-1zM365.0 186.5h1v1h-1zM360.0 187.5h1v1h-1zM366.0 187.5h1v1h-1zM359.0 188.5h1v1h-1zM366.0 188.5h1v1h-1zM359.0 189.5h1v1h-1zM366.0 189.5h1v1h-1zM359.0 190.5h1v1h-1zM366.0 190.5h1v1h-1zM359.0 191.5h1v1h-1zM366.0 191.5h1v1h-1zM359.0 192.5h1v1h-1zM366.0 192.5h1v1h-1zM360.0 193.5h1v1h-1zM365.0 193.5h1v1h-1zM361.0 194.5h1v1h-1zM365.0 194.5h1v1h-1zM362.0 195.5h3v1h-3z"/>
<path fill="#3ad24c" d="M361.0 186.5h4v1h-4zM361.0 187.5h1v1h-1zM365.0 187.5h1v1h-1zM360.0 188.5h1v1h-1zM365.0 188.5h1v1h-1zM360.0 192.5h1v1h-1zM365.0 192.5h1v1h-1zM364.0 193.5h1v1h-1zM362.0 194.5h3v1h-3z"/>
<path fill="#a6e23a" d="M362.0 187.5h3v1h-3zM361.0 188.5h1v1h-1zM364.0 188.5h1v1h-1zM360.0 189.5h1v1h-1zM365.0 189.5h1v1h-1zM360.0 190.5h1v1h-1zM365.0 190.5h1v1h-1zM360.0 191.5h1v1h-1zM365.0 191.5h1v1h-1zM364.0 192.5h1v1h-1zM361.0 193.5h3v1h-3z"/>
<path fill="#f2d82c" d="M362.0 188.5h2v1h-2zM361.0 189.5h1v1h-1zM364.0 189.5h1v1h-1zM364.0 190.5h1v1h-1zM364.0 191.5h1v1h-1zM361.0 192.5h1v1h-1zM363.0 192.5h1v1h-1z"/>
<path fill="#f08a22" d="M363.0 189.5h1v1h-1zM361.0 190.5h1v1h-1zM361.0 191.5h1v1h-1zM362.0 192.5h1v1h-1z"/>
<path fill="#e22a1c" d="M362.0 189.5h1v1h-1zM362.0 190.5h2v1h-2zM362.0 191.5h2v1h-2z"/>
</g>
<text x="224.17" y="172.70" font-size="8.59" textLength="23.83" lengthAdjust="spacingAndGlyphs">0.00%</text>
<text x="264.57" y="172.70" font-size="8.59" textLength="28.32" lengthAdjust="spacingAndGlyphs">0.969%</text>
<text x="224.17" y="235.50" font-size="8.59" textLength="28.73" lengthAdjust="spacingAndGlyphs">0.093%</text>
<text x="268.50" y="235.50" font-size="8.59" textLength="24.41" lengthAdjust="spacingAndGlyphs">98.9%</text>
<text x="322.46" y="172.70" font-size="8.59" textLength="24.34" lengthAdjust="spacingAndGlyphs">0.00%</text>
<text x="367.43" y="172.70" font-size="8.59" textLength="23.97" lengthAdjust="spacingAndGlyphs">84.8%</text>
<text x="322.46" y="235.50" font-size="8.59" textLength="24.34" lengthAdjust="spacingAndGlyphs">0.00%</text>
<text x="367.97" y="235.50" font-size="8.59" textLength="23.42" lengthAdjust="spacingAndGlyphs">15.2%</text>
<text transform="translate(201.10,253.10) rotate(-90)" x="-0.30" y="0" font-size="9" textLength="12.11" lengthAdjust="spacingAndGlyphs" stroke="#000" stroke-width="0.18">GFP</text>
<line x1="198.40" y1="238.20" x2="198.40" y2="195.00" stroke="#5B9BD5" stroke-width="1.0"/>
<path d="M198.40,191.10 L200.80,196.50 L198.40,195.50 L196.00,196.50 Z" fill="#5B9BD5"/>
<text x="203.79" y="261.30" font-size="8.8" textLength="15.58" lengthAdjust="spacingAndGlyphs" stroke="#000" stroke-width="0.1">CD46</text>
<line x1="222.20" y1="258.50" x2="266.30" y2="258.50" stroke="#5B9BD5" stroke-width="1.0"/>
<path d="M270.20,258.50 L264.80,260.90 L265.80,258.50 L264.80,256.10 Z" fill="#5B9BD5"/>
<text x="181.35" y="291.00" font-size="12.0" textLength="9.51" lengthAdjust="spacingAndGlyphs" font-weight="bold">E</text>
<text x="245.76" y="304.40" font-size="9.04" textLength="22.20" lengthAdjust="spacingAndGlyphs">Nontr</text>
<text x="309.74" y="304.40" font-size="9.04" textLength="87.63" lengthAdjust="spacingAndGlyphs">HDAd-ABE-sgHBG-2</text>
<rect x="222.35" y="311.15" width="71.50" height="70.50" fill="none" stroke="#444" stroke-width="0.9"/>
<line x1="220.30" y1="317.60" x2="221.90" y2="317.60" stroke="#444" stroke-width="0.7"/>
<line x1="220.30" y1="334.30" x2="221.90" y2="334.30" stroke="#444" stroke-width="0.7"/>
<line x1="220.30" y1="351.00" x2="221.90" y2="351.00" stroke="#444" stroke-width="0.7"/>
<line x1="220.30" y1="367.70" x2="221.90" y2="367.70" stroke="#444" stroke-width="0.7"/>
<line x1="220.30" y1="379.10" x2="221.90" y2="379.10" stroke="#444" stroke-width="0.7"/>
<line x1="227.90" y1="382.10" x2="227.90" y2="383.70" stroke="#444" stroke-width="0.7"/>
<line x1="239.90" y1="382.10" x2="239.90" y2="383.70" stroke="#444" stroke-width="0.7"/>
<line x1="253.90" y1="382.10" x2="253.90" y2="383.70" stroke="#444" stroke-width="0.7"/>
<line x1="267.90" y1="382.10" x2="267.90" y2="383.70" stroke="#444" stroke-width="0.7"/>
<line x1="281.90" y1="382.10" x2="281.90" y2="383.70" stroke="#444" stroke-width="0.7"/>
<text x="205.72" y="319.80" font-size="7.68" textLength="11.40" lengthAdjust="spacingAndGlyphs">10<tspan font-size="5.2" dy="-3.28">5</tspan></text>
<text x="205.72" y="336.50" font-size="7.68" textLength="11.33" lengthAdjust="spacingAndGlyphs">10<tspan font-size="5.2" dy="-3.28">4</tspan></text>
<text x="205.72" y="353.20" font-size="7.68" textLength="11.41" lengthAdjust="spacingAndGlyphs">10<tspan font-size="5.2" dy="-3.28">3</tspan></text>
<text x="205.71" y="369.90" font-size="7.68" textLength="11.45" lengthAdjust="spacingAndGlyphs">10<tspan font-size="5.2" dy="-3.28">2</tspan></text>
<text x="212.34" y="381.30" font-size="7.68" textLength="3.72" lengthAdjust="spacingAndGlyphs">0</text>
<text x="225.50" y="393.70" font-size="7.68" textLength="3.61" lengthAdjust="spacingAndGlyphs">0</text>
<text x="231.76" y="393.70" font-size="7.68" textLength="10.58" lengthAdjust="spacingAndGlyphs">10<tspan font-size="5.2" dy="-3.28">2</tspan></text>
<text x="247.86" y="393.70" font-size="7.68" textLength="10.55" lengthAdjust="spacingAndGlyphs">10<tspan font-size="5.2" dy="-3.28">3</tspan></text>
<text x="263.66" y="393.70" font-size="7.68" textLength="10.48" lengthAdjust="spacingAndGlyphs">10<tspan font-size="5.2" dy="-3.28">4</tspan></text>
<text x="278.16" y="393.70" font-size="7.68" textLength="10.54" lengthAdjust="spacingAndGlyphs">10<tspan font-size="5.2" dy="-3.28">5</tspan></text>
<rect x="319.65" y="311.15" width="70.70" height="70.50" fill="none" stroke="#444" stroke-width="0.9"/>
<line x1="317.60" y1="317.60" x2="319.20" y2="317.60" stroke="#444" stroke-width="0.7"/>
<line x1="317.60" y1="334.30" x2="319.20" y2="334.30" stroke="#444" stroke-width="0.7"/>
<line x1="317.60" y1="351.00" x2="319.20" y2="351.00" stroke="#444" stroke-width="0.7"/>
<line x1="317.60" y1="367.70" x2="319.20" y2="367.70" stroke="#444" stroke-width="0.7"/>
<line x1="317.60" y1="379.10" x2="319.20" y2="379.10" stroke="#444" stroke-width="0.7"/>
<line x1="325.20" y1="382.10" x2="325.20" y2="383.70" stroke="#444" stroke-width="0.7"/>
<line x1="337.20" y1="382.10" x2="337.20" y2="383.70" stroke="#444" stroke-width="0.7"/>
<line x1="351.20" y1="382.10" x2="351.20" y2="383.70" stroke="#444" stroke-width="0.7"/>
<line x1="365.20" y1="382.10" x2="365.20" y2="383.70" stroke="#444" stroke-width="0.7"/>
<line x1="379.20" y1="382.10" x2="379.20" y2="383.70" stroke="#444" stroke-width="0.7"/>
<text x="303.22" y="319.80" font-size="7.68" textLength="11.40" lengthAdjust="spacingAndGlyphs">10<tspan font-size="5.2" dy="-3.28">5</tspan></text>
<text x="303.22" y="336.50" font-size="7.68" textLength="11.33" lengthAdjust="spacingAndGlyphs">10<tspan font-size="5.2" dy="-3.28">4</tspan></text>
<text x="303.22" y="353.20" font-size="7.68" textLength="11.41" lengthAdjust="spacingAndGlyphs">10<tspan font-size="5.2" dy="-3.28">3</tspan></text>
<text x="303.21" y="369.90" font-size="7.68" textLength="11.45" lengthAdjust="spacingAndGlyphs">10<tspan font-size="5.2" dy="-3.28">2</tspan></text>
<text x="309.84" y="381.30" font-size="7.68" textLength="3.72" lengthAdjust="spacingAndGlyphs">0</text>
<text x="323.10" y="393.70" font-size="7.68" textLength="3.61" lengthAdjust="spacingAndGlyphs">0</text>
<text x="328.46" y="393.70" font-size="7.68" textLength="10.58" lengthAdjust="spacingAndGlyphs">10<tspan font-size="5.2" dy="-3.28">2</tspan></text>
<text x="344.56" y="393.70" font-size="7.68" textLength="10.55" lengthAdjust="spacingAndGlyphs">10<tspan font-size="5.2" dy="-3.28">3</tspan></text>
<text x="360.16" y="393.70" font-size="7.68" textLength="10.48" lengthAdjust="spacingAndGlyphs">10<tspan font-size="5.2" dy="-3.28">4</tspan></text>
<text x="374.66" y="393.70" font-size="7.68" textLength="10.54" lengthAdjust="spacingAndGlyphs">10<tspan font-size="5.2" dy="-3.28">5</tspan></text>
<g filter="url(#bl)">
<path fill="#4a55f2" fill-opacity="0.42" d="M244.7 311.5h1v1h-1zM252.7 311.5h2v1h-2zM254.7 312.5h1v1h-1zM247.7 313.5h1v1h-1zM254.7 313.5h1v1h-1zM247.7 314.5h1v1h-1zM251.7 314.5h1v1h-1zM253.7 314.5h1v1h-1zM237.7 315.5h1v1h-1zM245.7 315.5h1v1h-1zM247.7 315.5h1v1h-1zM249.7 315.5h2v1h-2zM253.7 315.5h1v1h-1zM256.7 315.5h1v1h-1zM243.7 316.5h1v1h-1zM245.7 316.5h2v1h-2zM248.7 316.5h2v1h-2zM252.7 316.5h3v1h-3zM244.7 317.5h1v1h-1zM258.7 317.5h1v1h-1zM238.7 318.5h1v1h-1zM225.7 319.5h1v1h-1zM240.7 319.5h1v1h-1zM251.7 319.5h1v1h-1zM253.7 319.5h1v1h-1zM255.7 319.5h2v1h-2zM239.7 320.5h1v1h-1zM237.7 321.5h2v1h-2zM251.7 321.5h3v1h-3zM236.7 322.5h1v1h-1zM252.7 322.5h2v1h-2zM231.7 323.5h1v1h-1zM233.7 323.5h2v1h-2zM250.7 323.5h1v1h-1zM252.7 323.5h1v1h-1zM227.7 324.5h1v1h-1zM234.7 324.5h1v1h-1zM249.7 325.5h1v1h-1zM248.7 326.5h2v1h-2zM251.7 326.5h2v1h-2zM224.7 327.5h1v1h-1zM248.7 327.5h1v1h-1zM229.7 328.5h1v1h-1zM231.7 328.5h1v1h-1zM229.7 329.5h2v1h-2zM248.7 329.5h1v1h-1zM227.7 330.5h1v1h-1zM229.7 330.5h2v1h-2zM250.7 330.5h1v1h-1zM228.7 331.5h1v1h-1zM246.7 331.5h1v1h-1zM253.7 331.5h2v1h-2zM247.7 332.5h1v1h-1zM249.7 332.5h1v1h-1zM227.7 333.5h2v1h-2zM243.7 333.5h1v1h-1zM224.7 334.5h1v1h-1zM226.7 334.5h2v1h-2zM242.7 334.5h1v1h-1zM242.7 335.5h2v1h-2zM250.7 335.5h1v1h-1zM224.7 336.5h1v1h-1zM226.7 336.5h1v1h-1zM251.7 336.5h1v1h-1zM223.7 337.5h1v1h-1zM244.7 337.5h1v1h-1zM240.7 338.5h1v1h-1zM239.7 339.5h1v1h-1zM241.7 339.5h1v1h-1zM222.7 340.5h1v1h-1zM224.7 340.5h1v1h-1zM238.7 340.5h1v1h-1zM240.7 340.5h1v1h-1zM240.7 341.5h1v1h-1zM251.7 341.5h2v1h-2zM226.7 342.5h1v1h-1zM222.7 343.5h1v1h-1zM227.7 343.5h2v1h-2zM230.7 343.5h1v1h-1zM234.7 343.5h2v1h-2zM222.7 344.5h3v1h-3zM227.7 344.5h1v1h-1zM231.7 344.5h1v1h-1zM235.7 344.5h1v1h-1zM239.7 344.5h1v1h-1zM226.7 345.5h2v1h-2zM230.7 345.5h1v1h-1zM232.7 345.5h1v1h-1zM240.7 345.5h1v1h-1zM224.7 346.5h1v1h-1zM230.7 346.5h1v1h-1zM234.7 346.5h1v1h-1zM238.7 346.5h1v1h-1zM247.7 347.5h1v1h-1zM249.7 347.5h1v1h-1zM226.7 348.5h2v1h-2zM230.7 348.5h1v1h-1zM227.7 349.5h1v1h-1zM246.7 349.5h1v1h-1zM229.7 350.5h1v1h-1zM242.7 350.5h1v1h-1zM248.7 350.5h1v1h-1zM233.7 351.5h1v1h-1zM246.7 351.5h1v1h-1zM228.7 352.5h1v1h-1zM228.7 353.5h1v1h-1zM233.7 353.5h1v1h-1zM236.7 353.5h1v1h-1zM234.7 354.5h1v1h-1zM232.7 355.5h1v1h-1zM225.7 356.5h1v1h-1zM229.7 356.5h1v1h-1zM232.7 356.5h2v1h-2zM236.7 356.5h1v1h-1zM224.7 357.5h1v1h-1zM227.7 357.5h1v1h-1zM230.7 357.5h1v1h-1zM234.7 357.5h1v1h-1zM236.7 357.5h1v1h-1zM241.7 357.5h1v1h-1zM228.7 358.5h1v1h-1zM231.7 358.5h2v1h-2zM234.7 358.5h2v1h-2zM230.7 359.5h1v1h-1zM232.7 359.5h1v1h-1zM234.7 359.5h1v1h-1zM236.7 359.5h1v1h-1zM238.7 359.5h2v1h-2zM224.7 360.5h1v1h-1zM227.7 360.5h1v1h-1zM229.7 360.5h1v1h-1zM238.7 360.5h1v1h-1zM240.7 360.5h1v1h-1zM224.7 361.5h1v1h-1zM227.7 361.5h1v1h-1zM234.7 361.5h2v1h-2zM238.7 361.5h1v1h-1zM222.7 362.5h1v1h-1zM225.7 362.5h1v1h-1zM228.7 362.5h3v1h-3zM232.7 362.5h1v1h-1zM235.7 362.5h1v1h-1zM224.7 363.5h1v1h-1zM227.7 363.5h1v1h-1zM232.7 363.5h3v1h-3zM238.7 363.5h1v1h-1zM242.7 363.5h1v1h-1zM226.7 364.5h2v1h-2zM229.7 364.5h1v1h-1zM231.7 364.5h1v1h-1zM234.7 364.5h1v1h-1zM236.7 364.5h2v1h-2zM223.7 365.5h1v1h-1zM230.7 365.5h5v1h-5zM236.7 365.5h1v1h-1zM228.7 366.5h1v1h-1zM233.7 366.5h2v1h-2zM240.7 366.5h1v1h-1zM227.7 367.5h1v1h-1zM230.7 367.5h1v1h-1zM232.7 367.5h2v1h-2zM235.7 367.5h2v1h-2zM241.7 367.5h1v1h-1zM223.7 368.5h1v1h-1zM227.7 368.5h1v1h-1zM229.7 368.5h1v1h-1zM231.7 368.5h1v1h-1zM235.7 368.5h2v1h-2zM239.7 368.5h1v1h-1zM238.7 369.5h1v1h-1zM228.7 370.5h1v1h-1zM231.7 370.5h1v1h-1zM238.7 370.5h1v1h-1zM229.7 371.5h1v1h-1zM232.7 371.5h1v1h-1zM235.7 371.5h1v1h-1zM239.7 371.5h1v1h-1zM229.7 372.5h1v1h-1zM224.7 373.5h1v1h-1zM236.7 373.5h1v1h-1zM232.7 374.5h1v1h-1zM241.7 374.5h1v1h-1zM228.7 375.5h1v1h-1zM234.7 378.5h1v1h-1z"/>
<path fill="#4a55f2" d="M240.7 315.5h1v1h-1zM251.7 315.5h1v1h-1zM250.7 316.5h1v1h-1zM249.7 317.5h1v1h-1zM243.7 318.5h1v1h-1zM250.7 319.5h1v1h-1zM251.7 322.5h1v1h-1zM233.7 325.5h1v1h-1zM247.7 328.5h1v1h-1zM247.7 329.5h1v1h-1zM245.7 330.5h1v1h-1zM226.7 332.5h1v1h-1zM244.7 332.5h1v1h-1zM226.7 335.5h1v1h-1zM224.7 338.5h1v1h-1zM238.7 338.5h1v1h-1zM224.7 339.5h2v1h-2zM237.7 340.5h1v1h-1zM225.7 341.5h1v1h-1zM227.7 342.5h1v1h-1zM232.7 342.5h1v1h-1zM226.7 343.5h1v1h-1zM231.7 343.5h1v1h-1zM225.7 344.5h1v1h-1zM230.7 344.5h1v1h-1zM225.7 345.5h1v1h-1zM233.7 345.5h1v1h-1zM226.7 346.5h1v1h-1zM226.7 347.5h1v1h-1zM227.7 354.5h1v1h-1zM233.7 354.5h1v1h-1zM229.7 357.5h1v1h-1zM231.7 357.5h1v1h-1zM229.7 358.5h1v1h-1zM233.7 358.5h1v1h-1zM236.7 358.5h1v1h-1zM235.7 359.5h1v1h-1zM237.7 359.5h1v1h-1zM225.7 360.5h1v1h-1zM231.7 360.5h1v1h-1zM234.7 360.5h1v1h-1zM232.7 361.5h2v1h-2zM226.7 362.5h1v1h-1zM231.7 362.5h1v1h-1zM236.7 362.5h1v1h-1zM228.7 363.5h2v1h-2zM231.7 363.5h1v1h-1zM235.7 363.5h2v1h-2zM229.7 365.5h1v1h-1zM235.7 365.5h1v1h-1zM238.7 365.5h1v1h-1zM229.7 366.5h2v1h-2zM236.7 366.5h1v1h-1zM231.7 367.5h1v1h-1zM232.7 368.5h1v1h-1zM227.7 369.5h1v1h-1zM234.7 369.5h1v1h-1z"/>
<path fill="#2f5cf0" d="M245.7 317.5h4v1h-4zM245.7 318.5h5v1h-5zM243.7 319.5h7v1h-7zM241.7 320.5h3v1h-3zM245.7 320.5h5v1h-5zM240.7 321.5h1v1h-1zM244.7 321.5h1v1h-1zM248.7 321.5h2v1h-2zM238.7 322.5h2v1h-2zM248.7 322.5h2v1h-2zM237.7 323.5h1v1h-1zM248.7 323.5h1v1h-1zM237.7 324.5h1v1h-1zM247.7 324.5h3v1h-3zM235.7 325.5h2v1h-2zM246.7 325.5h2v1h-2zM233.7 326.5h2v1h-2zM233.7 327.5h1v1h-1zM245.7 327.5h2v1h-2zM245.7 328.5h2v1h-2zM244.7 329.5h1v1h-1zM231.7 330.5h1v1h-1zM244.7 330.5h1v1h-1zM243.7 331.5h2v1h-2zM230.7 332.5h1v1h-1zM242.7 332.5h2v1h-2zM229.7 333.5h1v1h-1zM241.7 333.5h1v1h-1zM228.7 334.5h2v1h-2zM240.7 334.5h1v1h-1zM228.7 335.5h1v1h-1zM240.7 335.5h1v1h-1zM227.7 336.5h2v1h-2zM238.7 336.5h2v1h-2zM227.7 337.5h2v1h-2zM238.7 337.5h1v1h-1zM227.7 338.5h2v1h-2zM236.7 338.5h1v1h-1zM226.7 339.5h4v1h-4zM234.7 339.5h3v1h-3zM226.7 340.5h9v1h-9zM226.7 341.5h5v1h-5zM233.7 341.5h1v1h-1zM230.7 342.5h2v1h-2z"/>
<path fill="#1f8cf0" d="M241.7 321.5h3v1h-3zM245.7 321.5h3v1h-3zM240.7 322.5h1v1h-1zM242.7 322.5h6v1h-6zM238.7 323.5h2v1h-2zM244.7 323.5h4v1h-4zM238.7 324.5h1v1h-1zM245.7 324.5h2v1h-2zM237.7 325.5h1v1h-1zM244.7 325.5h2v1h-2zM235.7 326.5h3v1h-3zM244.7 326.5h2v1h-2zM234.7 327.5h2v1h-2zM244.7 327.5h1v1h-1zM233.7 328.5h1v1h-1zM244.7 328.5h1v1h-1zM233.7 329.5h1v1h-1zM243.7 329.5h1v1h-1zM232.7 330.5h1v1h-1zM243.7 330.5h1v1h-1zM231.7 331.5h1v1h-1zM242.7 331.5h1v1h-1zM231.7 332.5h1v1h-1zM241.7 332.5h1v1h-1zM230.7 333.5h1v1h-1zM240.7 333.5h1v1h-1zM230.7 334.5h1v1h-1zM239.7 334.5h1v1h-1zM229.7 335.5h2v1h-2zM238.7 335.5h2v1h-2zM229.7 336.5h2v1h-2zM237.7 336.5h1v1h-1zM229.7 337.5h2v1h-2zM235.7 337.5h2v1h-2zM229.7 338.5h3v1h-3zM234.7 338.5h1v1h-1zM230.7 339.5h4v1h-4z"/>
<path fill="#1cc6d6" d="M241.7 322.5h1v1h-1zM240.7 323.5h4v1h-4zM239.7 324.5h2v1h-2zM243.7 324.5h2v1h-2zM238.7 325.5h2v1h-2zM243.7 325.5h1v1h-1zM238.7 326.5h1v1h-1zM242.7 326.5h2v1h-2zM236.7 327.5h2v1h-2zM242.7 327.5h2v1h-2zM234.7 328.5h2v1h-2zM242.7 328.5h2v1h-2zM234.7 329.5h1v1h-1zM242.7 329.5h1v1h-1zM233.7 330.5h1v1h-1zM242.7 330.5h1v1h-1zM232.7 331.5h2v1h-2zM241.7 331.5h1v1h-1zM232.7 332.5h1v1h-1zM240.7 332.5h1v1h-1zM231.7 333.5h1v1h-1zM239.7 333.5h1v1h-1zM231.7 334.5h1v1h-1zM238.7 334.5h1v1h-1zM231.7 335.5h1v1h-1zM237.7 335.5h1v1h-1zM231.7 336.5h1v1h-1zM236.7 336.5h1v1h-1zM231.7 337.5h4v1h-4zM232.7 338.5h2v1h-2z"/>
<path fill="#3ad24c" d="M241.7 324.5h2v1h-2zM240.7 325.5h3v1h-3zM239.7 326.5h3v1h-3zM238.7 327.5h1v1h-1zM241.7 327.5h1v1h-1zM236.7 328.5h1v1h-1zM241.7 328.5h1v1h-1zM235.7 329.5h1v1h-1zM241.7 329.5h1v1h-1zM234.7 330.5h1v1h-1zM241.7 330.5h1v1h-1zM234.7 331.5h1v1h-1zM240.7 331.5h1v1h-1zM233.7 332.5h1v1h-1zM239.7 332.5h1v1h-1zM232.7 333.5h1v1h-1zM238.7 333.5h1v1h-1zM232.7 334.5h1v1h-1zM237.7 334.5h1v1h-1zM232.7 335.5h2v1h-2zM235.7 335.5h2v1h-2zM232.7 336.5h4v1h-4z"/>
<path fill="#a6e23a" d="M239.7 327.5h2v1h-2zM237.7 328.5h2v1h-2zM240.7 328.5h1v1h-1zM236.7 329.5h1v1h-1zM240.7 329.5h1v1h-1zM235.7 330.5h1v1h-1zM240.7 330.5h1v1h-1zM235.7 331.5h1v1h-1zM239.7 331.5h1v1h-1zM234.7 332.5h2v1h-2zM238.7 332.5h1v1h-1zM233.7 333.5h2v1h-2zM236.7 333.5h2v1h-2zM233.7 334.5h4v1h-4zM234.7 335.5h1v1h-1z"/>
<path fill="#f2d82c" d="M239.7 328.5h1v1h-1zM237.7 329.5h1v1h-1zM239.7 329.5h1v1h-1zM236.7 330.5h1v1h-1zM239.7 330.5h1v1h-1zM236.7 331.5h3v1h-3zM236.7 332.5h2v1h-2zM235.7 333.5h1v1h-1z"/>
<path fill="#f08a22" d="M238.7 329.5h1v1h-1zM237.7 330.5h2v1h-2z"/>
<path fill="#4a55f2" fill-opacity="0.42" d="M354.0 319.5h1v1h-1zM375.0 321.5h1v1h-1zM359.0 323.5h1v1h-1zM337.0 324.5h1v1h-1zM364.0 324.5h1v1h-1zM333.0 325.5h1v1h-1zM336.0 325.5h1v1h-1zM360.0 325.5h1v1h-1zM362.0 325.5h1v1h-1zM364.0 325.5h1v1h-1zM333.0 326.5h1v1h-1zM347.0 326.5h1v1h-1zM350.0 326.5h1v1h-1zM354.0 326.5h1v1h-1zM341.0 327.5h1v1h-1zM350.0 327.5h3v1h-3zM354.0 327.5h2v1h-2zM365.0 327.5h1v1h-1zM346.0 328.5h1v1h-1zM353.0 328.5h1v1h-1zM357.0 328.5h2v1h-2zM365.0 328.5h2v1h-2zM368.0 328.5h1v1h-1zM377.0 328.5h1v1h-1zM345.0 329.5h1v1h-1zM347.0 329.5h1v1h-1zM350.0 329.5h1v1h-1zM362.0 329.5h3v1h-3zM366.0 329.5h2v1h-2zM369.0 329.5h1v1h-1zM371.0 329.5h1v1h-1zM333.0 330.5h1v1h-1zM336.0 330.5h1v1h-1zM343.0 330.5h1v1h-1zM346.0 330.5h2v1h-2zM350.0 330.5h1v1h-1zM359.0 330.5h2v1h-2zM362.0 330.5h1v1h-1zM367.0 330.5h2v1h-2zM370.0 330.5h1v1h-1zM377.0 330.5h1v1h-1zM341.0 331.5h1v1h-1zM344.0 331.5h1v1h-1zM346.0 331.5h1v1h-1zM348.0 331.5h1v1h-1zM360.0 331.5h3v1h-3zM364.0 331.5h1v1h-1zM366.0 331.5h3v1h-3zM371.0 331.5h1v1h-1zM322.0 332.5h1v1h-1zM337.0 332.5h1v1h-1zM340.0 332.5h1v1h-1zM344.0 332.5h1v1h-1zM364.0 332.5h1v1h-1zM366.0 332.5h1v1h-1zM369.0 332.5h1v1h-1zM372.0 332.5h1v1h-1zM342.0 333.5h1v1h-1zM344.0 333.5h1v1h-1zM364.0 333.5h1v1h-1zM366.0 333.5h1v1h-1zM370.0 333.5h1v1h-1zM372.0 333.5h1v1h-1zM375.0 333.5h1v1h-1zM338.0 334.5h1v1h-1zM340.0 334.5h1v1h-1zM367.0 334.5h1v1h-1zM373.0 334.5h1v1h-1zM375.0 334.5h2v1h-2zM379.0 334.5h1v1h-1zM336.0 335.5h1v1h-1zM340.0 335.5h1v1h-1zM367.0 335.5h1v1h-1zM370.0 335.5h1v1h-1zM375.0 335.5h1v1h-1zM334.0 336.5h1v1h-1zM337.0 336.5h1v1h-1zM341.0 336.5h1v1h-1zM369.0 336.5h2v1h-2zM372.0 336.5h1v1h-1zM375.0 336.5h2v1h-2zM381.0 336.5h1v1h-1zM386.0 336.5h1v1h-1zM337.0 337.5h3v1h-3zM367.0 337.5h1v1h-1zM369.0 337.5h2v1h-2zM375.0 337.5h3v1h-3zM381.0 337.5h1v1h-1zM330.0 338.5h1v1h-1zM332.0 338.5h1v1h-1zM338.0 338.5h2v1h-2zM369.0 338.5h2v1h-2zM377.0 338.5h1v1h-1zM321.0 339.5h1v1h-1zM329.0 339.5h1v1h-1zM336.0 339.5h1v1h-1zM338.0 339.5h1v1h-1zM371.0 339.5h1v1h-1zM330.0 340.5h1v1h-1zM369.0 340.5h1v1h-1zM371.0 340.5h1v1h-1zM326.0 341.5h1v1h-1zM334.0 341.5h2v1h-2zM337.0 341.5h1v1h-1zM367.0 341.5h1v1h-1zM369.0 341.5h3v1h-3zM373.0 341.5h2v1h-2zM379.0 341.5h1v1h-1zM333.0 342.5h1v1h-1zM365.0 342.5h1v1h-1zM368.0 342.5h1v1h-1zM371.0 342.5h1v1h-1zM374.0 342.5h1v1h-1zM376.0 342.5h2v1h-2zM331.0 343.5h2v1h-2zM364.0 343.5h2v1h-2zM371.0 343.5h1v1h-1zM374.0 343.5h1v1h-1zM333.0 344.5h2v1h-2zM362.0 344.5h1v1h-1zM365.0 344.5h1v1h-1zM367.0 344.5h1v1h-1zM369.0 344.5h1v1h-1zM371.0 344.5h2v1h-2zM330.0 345.5h1v1h-1zM358.0 345.5h1v1h-1zM361.0 345.5h1v1h-1zM363.0 345.5h2v1h-2zM366.0 345.5h1v1h-1zM371.0 345.5h2v1h-2zM374.0 345.5h1v1h-1zM332.0 346.5h1v1h-1zM335.0 346.5h1v1h-1zM358.0 346.5h1v1h-1zM365.0 346.5h2v1h-2zM330.0 347.5h1v1h-1zM350.0 347.5h2v1h-2zM353.0 347.5h2v1h-2zM357.0 347.5h1v1h-1zM359.0 347.5h1v1h-1zM365.0 347.5h1v1h-1zM367.0 347.5h1v1h-1zM371.0 347.5h1v1h-1zM374.0 347.5h1v1h-1zM333.0 348.5h2v1h-2zM337.0 348.5h1v1h-1zM350.0 348.5h2v1h-2zM353.0 348.5h1v1h-1zM355.0 348.5h1v1h-1zM358.0 348.5h1v1h-1zM361.0 348.5h1v1h-1zM365.0 348.5h3v1h-3zM320.0 349.5h1v1h-1zM333.0 349.5h2v1h-2zM336.0 349.5h1v1h-1zM338.0 349.5h1v1h-1zM349.0 349.5h1v1h-1zM353.0 349.5h1v1h-1zM355.0 349.5h2v1h-2zM358.0 349.5h2v1h-2zM330.0 350.5h1v1h-1zM333.0 350.5h1v1h-1zM338.0 350.5h1v1h-1zM344.0 350.5h1v1h-1zM346.0 350.5h3v1h-3zM350.0 350.5h1v1h-1zM352.0 350.5h2v1h-2zM363.0 350.5h3v1h-3zM367.0 350.5h1v1h-1zM372.0 350.5h1v1h-1zM321.0 351.5h1v1h-1zM336.0 351.5h1v1h-1zM340.0 351.5h1v1h-1zM352.0 351.5h3v1h-3zM356.0 351.5h2v1h-2zM330.0 352.5h1v1h-1zM332.0 352.5h1v1h-1zM336.0 352.5h5v1h-5zM342.0 352.5h3v1h-3zM351.0 352.5h4v1h-4zM358.0 352.5h1v1h-1zM333.0 353.5h1v1h-1zM336.0 353.5h1v1h-1zM338.0 353.5h2v1h-2zM345.0 353.5h1v1h-1zM348.0 353.5h1v1h-1zM350.0 353.5h1v1h-1zM352.0 353.5h1v1h-1zM356.0 353.5h1v1h-1zM361.0 353.5h1v1h-1zM324.0 354.5h1v1h-1zM331.0 354.5h1v1h-1zM333.0 354.5h1v1h-1zM336.0 354.5h1v1h-1zM345.0 354.5h2v1h-2zM351.0 354.5h1v1h-1zM359.0 354.5h2v1h-2zM323.0 355.5h1v1h-1zM340.0 355.5h1v1h-1zM351.0 355.5h1v1h-1zM358.0 355.5h1v1h-1zM334.0 356.5h1v1h-1zM343.0 356.5h1v1h-1zM347.0 356.5h1v1h-1zM350.0 356.5h1v1h-1zM337.0 357.5h2v1h-2zM345.0 357.5h1v1h-1zM347.0 357.5h1v1h-1zM352.0 357.5h1v1h-1zM337.0 358.5h1v1h-1zM341.0 358.5h2v1h-2zM347.0 358.5h1v1h-1zM349.0 358.5h2v1h-2zM359.0 358.5h1v1h-1zM328.0 359.5h1v1h-1zM334.0 359.5h1v1h-1zM338.0 359.5h1v1h-1zM351.0 359.5h1v1h-1zM355.0 359.5h1v1h-1zM336.0 360.5h1v1h-1zM340.0 360.5h2v1h-2zM349.0 360.5h2v1h-2zM356.0 360.5h1v1h-1zM338.0 361.5h2v1h-2zM355.0 361.5h1v1h-1zM340.0 362.5h1v1h-1zM346.0 362.5h2v1h-2zM333.0 363.5h1v1h-1zM338.0 363.5h2v1h-2zM344.0 363.5h2v1h-2zM347.0 363.5h2v1h-2zM350.0 363.5h1v1h-1zM355.0 363.5h1v1h-1zM337.0 364.5h1v1h-1zM343.0 364.5h1v1h-1zM349.0 364.5h2v1h-2zM355.0 364.5h1v1h-1zM336.0 365.5h1v1h-1zM341.0 365.5h1v1h-1zM347.0 365.5h1v1h-1zM349.0 365.5h3v1h-3zM355.0 365.5h1v1h-1zM357.0 365.5h1v1h-1zM339.0 366.5h1v1h-1zM342.0 366.5h1v1h-1zM346.0 366.5h3v1h-3zM351.0 366.5h3v1h-3zM359.0 366.5h1v1h-1zM339.0 367.5h3v1h-3zM343.0 367.5h3v1h-3zM348.0 367.5h1v1h-1zM363.0 367.5h1v1h-1zM335.0 368.5h2v1h-2zM341.0 368.5h1v1h-1zM343.0 368.5h1v1h-1zM347.0 368.5h1v1h-1zM349.0 368.5h1v1h-1zM352.0 368.5h1v1h-1zM351.0 369.5h2v1h-2zM329.0 370.5h1v1h-1zM337.0 370.5h1v1h-1zM341.0 370.5h1v1h-1zM347.0 370.5h1v1h-1zM349.0 370.5h1v1h-1zM335.0 371.5h1v1h-1zM341.0 371.5h1v1h-1zM346.0 371.5h1v1h-1zM348.0 371.5h1v1h-1zM354.0 372.5h1v1h-1zM339.0 373.5h1v1h-1zM341.0 373.5h2v1h-2zM344.0 373.5h1v1h-1zM347.0 373.5h1v1h-1zM344.0 377.5h1v1h-1z"/>
<path fill="#4a55f2" d="M361.0 327.5h1v1h-1zM351.0 328.5h1v1h-1zM356.0 328.5h1v1h-1zM354.0 329.5h2v1h-2zM360.0 329.5h2v1h-2zM348.0 330.5h1v1h-1zM361.0 330.5h1v1h-1zM336.0 331.5h1v1h-1zM345.0 332.5h1v1h-1zM361.0 332.5h1v1h-1zM363.0 332.5h1v1h-1zM365.0 332.5h1v1h-1zM341.0 333.5h1v1h-1zM343.0 334.5h1v1h-1zM365.0 334.5h1v1h-1zM366.0 335.5h1v1h-1zM369.0 335.5h1v1h-1zM372.0 335.5h1v1h-1zM378.0 335.5h1v1h-1zM368.0 337.5h1v1h-1zM372.0 337.5h2v1h-2zM367.0 338.5h1v1h-1zM372.0 338.5h2v1h-2zM333.0 339.5h1v1h-1zM368.0 339.5h1v1h-1zM373.0 339.5h2v1h-2zM338.0 340.5h1v1h-1zM368.0 340.5h1v1h-1zM370.0 340.5h1v1h-1zM366.0 341.5h1v1h-1zM368.0 341.5h1v1h-1zM335.0 342.5h2v1h-2zM370.0 342.5h1v1h-1zM333.0 343.5h1v1h-1zM366.0 343.5h2v1h-2zM369.0 343.5h2v1h-2zM373.0 343.5h1v1h-1zM363.0 344.5h1v1h-1zM366.0 344.5h1v1h-1zM370.0 344.5h1v1h-1zM365.0 345.5h1v1h-1zM369.0 345.5h1v1h-1zM359.0 346.5h2v1h-2zM363.0 346.5h2v1h-2zM368.0 346.5h1v1h-1zM334.0 347.5h2v1h-2zM355.0 347.5h2v1h-2zM358.0 347.5h1v1h-1zM366.0 347.5h1v1h-1zM368.0 347.5h1v1h-1zM336.0 348.5h1v1h-1zM352.0 348.5h1v1h-1zM359.0 348.5h2v1h-2zM348.0 349.5h1v1h-1zM354.0 349.5h1v1h-1zM335.0 350.5h1v1h-1zM342.0 350.5h2v1h-2zM359.0 350.5h1v1h-1zM338.0 351.5h1v1h-1zM341.0 351.5h1v1h-1zM345.0 351.5h3v1h-3zM351.0 351.5h1v1h-1zM335.0 352.5h1v1h-1zM347.0 352.5h1v1h-1zM346.0 353.5h1v1h-1zM337.0 354.5h1v1h-1zM341.0 354.5h1v1h-1zM347.0 354.5h1v1h-1zM338.0 355.5h2v1h-2zM342.0 355.5h4v1h-4zM348.0 355.5h1v1h-1zM350.0 355.5h1v1h-1zM335.0 356.5h1v1h-1zM340.0 356.5h1v1h-1zM342.0 356.5h1v1h-1zM345.0 356.5h1v1h-1zM348.0 356.5h1v1h-1zM352.0 356.5h1v1h-1zM339.0 357.5h1v1h-1zM341.0 357.5h1v1h-1zM346.0 357.5h1v1h-1zM351.0 357.5h1v1h-1zM343.0 358.5h1v1h-1zM340.0 359.5h1v1h-1zM349.0 359.5h2v1h-2zM339.0 360.5h1v1h-1zM342.0 360.5h1v1h-1zM348.0 360.5h1v1h-1zM340.0 361.5h1v1h-1zM346.0 361.5h1v1h-1zM337.0 362.5h1v1h-1zM341.0 362.5h1v1h-1zM344.0 362.5h1v1h-1zM348.0 362.5h1v1h-1zM340.0 363.5h1v1h-1zM342.0 363.5h2v1h-2zM351.0 363.5h1v1h-1zM354.0 363.5h1v1h-1zM342.0 364.5h1v1h-1zM345.0 364.5h1v1h-1zM347.0 364.5h2v1h-2zM351.0 364.5h1v1h-1zM345.0 365.5h2v1h-2zM337.0 367.5h1v1h-1zM346.0 369.5h1v1h-1zM348.0 369.5h1v1h-1zM339.0 372.5h1v1h-1zM348.0 372.5h1v1h-1z"/>
<path fill="#2f5cf0" d="M351.0 330.5h8v1h-8zM349.0 331.5h1v1h-1zM351.0 331.5h3v1h-3zM355.0 331.5h1v1h-1zM358.0 331.5h2v1h-2zM347.0 332.5h4v1h-4zM356.0 332.5h5v1h-5zM346.0 333.5h2v1h-2zM358.0 333.5h3v1h-3zM363.0 333.5h1v1h-1zM344.0 334.5h3v1h-3zM360.0 334.5h5v1h-5zM343.0 335.5h2v1h-2zM361.0 335.5h5v1h-5zM343.0 336.5h1v1h-1zM360.0 336.5h2v1h-2zM363.0 336.5h3v1h-3zM340.0 337.5h2v1h-2zM360.0 337.5h6v1h-6zM340.0 338.5h2v1h-2zM359.0 338.5h2v1h-2zM362.0 338.5h5v1h-5zM339.0 339.5h2v1h-2zM359.0 339.5h9v1h-9zM339.0 340.5h2v1h-2zM358.0 340.5h10v1h-10zM339.0 341.5h1v1h-1zM358.0 341.5h3v1h-3zM362.0 341.5h3v1h-3zM338.0 342.5h2v1h-2zM357.0 342.5h1v1h-1zM360.0 342.5h4v1h-4zM336.0 343.5h3v1h-3zM356.0 343.5h1v1h-1zM358.0 343.5h3v1h-3zM336.0 344.5h3v1h-3zM353.0 344.5h9v1h-9zM336.0 345.5h4v1h-4zM351.0 345.5h6v1h-6zM359.0 345.5h1v1h-1zM336.0 346.5h2v1h-2zM339.0 346.5h1v1h-1zM348.0 346.5h7v1h-7zM356.0 346.5h2v1h-2zM337.0 347.5h4v1h-4zM347.0 347.5h3v1h-3zM352.0 347.5h1v1h-1zM338.0 348.5h11v1h-11zM339.0 349.5h4v1h-4zM345.0 349.5h1v1h-1zM347.0 349.5h1v1h-1zM344.0 358.5h3v1h-3zM343.0 359.5h5v1h-5zM343.0 360.5h5v1h-5zM344.0 361.5h2v1h-2z"/>
<path fill="#1f8cf0" d="M354.0 331.5h1v1h-1zM351.0 332.5h5v1h-5zM348.0 333.5h3v1h-3zM355.0 333.5h2v1h-2zM347.0 334.5h1v1h-1zM355.0 334.5h5v1h-5zM346.0 335.5h1v1h-1zM356.0 335.5h5v1h-5zM344.0 336.5h1v1h-1zM357.0 336.5h3v1h-3zM342.0 337.5h2v1h-2zM357.0 337.5h3v1h-3zM342.0 338.5h1v1h-1zM356.0 338.5h3v1h-3zM341.0 339.5h1v1h-1zM356.0 339.5h3v1h-3zM341.0 340.5h1v1h-1zM356.0 340.5h2v1h-2zM340.0 341.5h1v1h-1zM355.0 341.5h3v1h-3zM361.0 341.5h1v1h-1zM340.0 342.5h1v1h-1zM353.0 342.5h4v1h-4zM339.0 343.5h2v1h-2zM352.0 343.5h4v1h-4zM339.0 344.5h2v1h-2zM351.0 344.5h2v1h-2zM340.0 345.5h1v1h-1zM348.0 345.5h3v1h-3zM340.0 346.5h8v1h-8zM341.0 347.5h6v1h-6z"/>
<path fill="#1cc6d6" d="M351.0 333.5h4v1h-4zM348.0 334.5h2v1h-2zM352.0 334.5h3v1h-3zM347.0 335.5h1v1h-1zM354.0 335.5h2v1h-2zM345.0 336.5h2v1h-2zM354.0 336.5h3v1h-3zM344.0 337.5h1v1h-1zM355.0 337.5h2v1h-2zM343.0 338.5h1v1h-1zM355.0 338.5h1v1h-1zM342.0 339.5h1v1h-1zM354.0 339.5h2v1h-2zM342.0 340.5h1v1h-1zM353.0 340.5h3v1h-3zM341.0 341.5h1v1h-1zM352.0 341.5h3v1h-3zM341.0 342.5h1v1h-1zM352.0 342.5h1v1h-1zM341.0 343.5h1v1h-1zM351.0 343.5h1v1h-1zM341.0 344.5h1v1h-1zM348.0 344.5h3v1h-3zM341.0 345.5h7v1h-7z"/>
<path fill="#3ad24c" d="M350.0 334.5h2v1h-2zM348.0 335.5h2v1h-2zM352.0 335.5h2v1h-2zM347.0 336.5h1v1h-1zM353.0 336.5h1v1h-1zM345.0 337.5h1v1h-1zM353.0 337.5h2v1h-2zM344.0 338.5h1v1h-1zM353.0 338.5h2v1h-2zM343.0 339.5h2v1h-2zM353.0 339.5h1v1h-1zM343.0 340.5h1v1h-1zM352.0 340.5h1v1h-1zM342.0 341.5h1v1h-1zM351.0 341.5h1v1h-1zM342.0 342.5h1v1h-1zM351.0 342.5h1v1h-1zM342.0 343.5h1v1h-1zM349.0 343.5h2v1h-2zM342.0 344.5h3v1h-3zM346.0 344.5h2v1h-2z"/>
<path fill="#a6e23a" d="M350.0 335.5h2v1h-2zM348.0 336.5h2v1h-2zM352.0 336.5h1v1h-1zM346.0 337.5h2v1h-2zM352.0 337.5h1v1h-1zM345.0 338.5h1v1h-1zM352.0 338.5h1v1h-1zM345.0 339.5h1v1h-1zM352.0 339.5h1v1h-1zM344.0 340.5h1v1h-1zM351.0 340.5h1v1h-1zM343.0 341.5h1v1h-1zM343.0 342.5h1v1h-1zM350.0 342.5h1v1h-1zM343.0 343.5h2v1h-2zM347.0 343.5h2v1h-2zM345.0 344.5h1v1h-1z"/>
<path fill="#f2d82c" d="M350.0 336.5h2v1h-2zM348.0 337.5h4v1h-4zM346.0 338.5h2v1h-2zM351.0 338.5h1v1h-1zM351.0 339.5h1v1h-1zM345.0 340.5h1v1h-1zM350.0 340.5h1v1h-1zM344.0 341.5h1v1h-1zM350.0 341.5h1v1h-1zM344.0 342.5h1v1h-1zM348.0 342.5h2v1h-2zM345.0 343.5h2v1h-2z"/>
<path fill="#f08a22" d="M348.0 338.5h3v1h-3zM346.0 339.5h1v1h-1zM350.0 339.5h1v1h-1zM346.0 340.5h1v1h-1zM349.0 340.5h1v1h-1zM345.0 341.5h1v1h-1zM349.0 341.5h1v1h-1zM345.0 342.5h3v1h-3z"/>
<path fill="#e22a1c" d="M347.0 339.5h3v1h-3zM347.0 340.5h2v1h-2zM346.0 341.5h3v1h-3z"/>
</g>
<path d="M257.2,314 L283.3,314 L283.3,354.4 L244.4,354.4 L244.4,344.2 Z" fill="none" stroke="#444" stroke-width="0.85"/>
<path d="M354.2,314 L380.3,314 L380.3,354.4 L342.1,354.4 L342.1,346.7 Z" fill="none" stroke="#444" stroke-width="0.85"/>
<text x="253.56" y="331.60" font-size="9.38" textLength="29.24" lengthAdjust="spacingAndGlyphs">0.616%</text>
<text x="352.59" y="331.60" font-size="9.38" textLength="24.82" lengthAdjust="spacingAndGlyphs">92.1%</text>
<text transform="translate(200.80,398.80) rotate(-90)" x="-0.13" y="0" font-size="9" textLength="19.69" lengthAdjust="spacingAndGlyphs" stroke="#000" stroke-width="0.18">Ter-119</text>
<line x1="198.20" y1="375.90" x2="198.20" y2="332.80" stroke="#5B9BD5" stroke-width="1.0"/>
<path d="M198.20,328.90 L200.60,334.30 L198.20,333.30 L195.80,334.30 Z" fill="#5B9BD5"/>
<text x="202.76" y="406.70" font-size="8.8" textLength="23.79" lengthAdjust="spacingAndGlyphs" stroke="#000" stroke-width="0.1">&#947;-globin</text>
<line x1="229.40" y1="404.20" x2="273.10" y2="404.20" stroke="#5B9BD5" stroke-width="1.0"/>
<path d="M277.00,404.20 L271.60,406.60 L272.60,404.20 L271.60,401.80 Z" fill="#5B9BD5"/>
<text x="8.60" y="454.30" font-size="12.0" textLength="8.19" lengthAdjust="spacingAndGlyphs" font-weight="bold">F</text>
<rect x="60.15" y="460.95" width="3.90" height="3.90" fill="#fff" stroke="#A5002F" stroke-width="1.3"/>
<text x="66.85" y="464.60" font-size="9.04" textLength="19.28" lengthAdjust="spacingAndGlyphs">Nontr</text>
<rect x="59.50" y="469.40" width="5.2" height="5.2" fill="#1E3F80"/>
<text x="66.83" y="474.30" font-size="9.04" textLength="77.18" lengthAdjust="spacingAndGlyphs">HDAd-ABE-sgHBG-2</text>
<line x1="59.80" y1="480.00" x2="59.80" y2="573.20" stroke="#000" stroke-width="1.3"/>
<line x1="56.60" y1="572.60" x2="59.80" y2="572.60" stroke="#000" stroke-width="1.1"/>
<text x="47.84" y="575.10" font-size="7.91" textLength="5.12" lengthAdjust="spacingAndGlyphs">0</text>
<line x1="56.60" y1="554.57" x2="59.80" y2="554.57" stroke="#000" stroke-width="1.1"/>
<text x="42.63" y="557.07" font-size="7.91" textLength="10.33" lengthAdjust="spacingAndGlyphs">20</text>
<line x1="56.60" y1="536.54" x2="59.80" y2="536.54" stroke="#000" stroke-width="1.1"/>
<text x="42.89" y="539.04" font-size="7.91" textLength="10.06" lengthAdjust="spacingAndGlyphs">40</text>
<line x1="56.60" y1="518.51" x2="59.80" y2="518.51" stroke="#000" stroke-width="1.1"/>
<text x="42.63" y="521.01" font-size="7.91" textLength="10.33" lengthAdjust="spacingAndGlyphs">60</text>
<line x1="56.60" y1="500.48" x2="59.80" y2="500.48" stroke="#000" stroke-width="1.1"/>
<text x="42.70" y="502.98" font-size="7.91" textLength="10.26" lengthAdjust="spacingAndGlyphs">80</text>
<line x1="56.60" y1="482.45" x2="59.80" y2="482.45" stroke="#000" stroke-width="1.1"/>
<text x="38.65" y="484.95" font-size="7.91" textLength="14.29" lengthAdjust="spacingAndGlyphs">100</text>
<line x1="57.30" y1="572.60" x2="75.00" y2="572.60" stroke="#000" stroke-width="1.3"/>
<line x1="75.00" y1="572.60" x2="127.00" y2="572.60" stroke="#000" stroke-width="1.3" stroke-dasharray="2.2,1.2"/>
<line x1="76.50" y1="572.60" x2="76.50" y2="575.60" stroke="#000" stroke-width="1"/>
<line x1="109.20" y1="572.60" x2="109.20" y2="575.60" stroke="#000" stroke-width="1"/>
<text transform="translate(32.60,553.70) rotate(-90)" x="-0.20" y="0" font-size="8.3" textLength="55.50" lengthAdjust="spacingAndGlyphs" stroke="#000" stroke-width="0.18">% &#947;-globin<tspan font-size="5.2" dy="-3.00">+</tspan><tspan dy="3.00"> cells</tspan></text>
<rect x="66.35" y="570.95" width="3.30" height="3.30" fill="#fff" stroke="#A5002F" stroke-width="1.3"/>
<rect x="68.85" y="570.95" width="3.30" height="3.30" fill="#fff" stroke="#A5002F" stroke-width="1.3"/>
<rect x="71.35" y="570.95" width="3.30" height="3.30" fill="#fff" stroke="#A5002F" stroke-width="1.3"/>
<rect x="98.85" y="570.95" width="3.30" height="3.30" fill="#fff" stroke="#A5002F" stroke-width="1.3"/>
<rect x="101.35" y="570.95" width="3.30" height="3.30" fill="#fff" stroke="#A5002F" stroke-width="1.3"/>
<rect x="103.85" y="570.95" width="3.30" height="3.30" fill="#fff" stroke="#A5002F" stroke-width="1.3"/>
<rect x="80.20" y="482.00" width="4.6" height="4.6" fill="#1E3F80"/>
<rect x="78.10" y="518.90" width="4.6" height="4.6" fill="#1E3F80"/>
<rect x="82.50" y="516.40" width="4.6" height="4.6" fill="#1E3F80"/>
<rect x="82.50" y="521.20" width="4.6" height="4.6" fill="#1E3F80"/>
<rect x="78.10" y="530.40" width="4.6" height="4.6" fill="#1E3F80"/>
<rect x="82.50" y="531.90" width="4.6" height="4.6" fill="#1E3F80"/>
<rect x="80.20" y="553.50" width="4.6" height="4.6" fill="#1E3F80"/>
<rect x="80.20" y="556.70" width="4.6" height="4.6" fill="#1E3F80"/>
<rect x="80.20" y="560.20" width="4.6" height="4.6" fill="#1E3F80"/>
<rect x="80.20" y="563.20" width="4.6" height="4.6" fill="#1E3F80"/>
<rect x="80.20" y="566.20" width="4.6" height="4.6" fill="#1E3F80"/>
<rect x="112.90" y="555.40" width="4.6" height="4.6" fill="#1E3F80"/>
<rect x="110.20" y="569.70" width="4.6" height="4.6" fill="#1E3F80"/>
<rect x="112.70" y="569.70" width="4.6" height="4.6" fill="#1E3F80"/>
<rect x="115.20" y="569.70" width="4.6" height="4.6" fill="#1E3F80"/>
<rect x="111.70" y="568.20" width="4.6" height="4.6" fill="#1E3F80"/>
<rect x="114.20" y="568.20" width="4.6" height="4.6" fill="#1E3F80"/>
<text transform="translate(58.09,603.31) rotate(-45)" x="-0.19" y="0" font-size="8.3" textLength="30.46" lengthAdjust="spacingAndGlyphs">Ter119<tspan font-size="5.2" dy="-3.20">+</tspan></text>
<text transform="translate(90.79,603.31) rotate(-45)" x="-0.12" y="0" font-size="8.3" textLength="30.44" lengthAdjust="spacingAndGlyphs">Ter119<tspan font-size="5.2" dy="-3.20">&#8211;</tspan></text>
<text x="162.45" y="455.00" font-size="12.0" textLength="10.37" lengthAdjust="spacingAndGlyphs" font-weight="bold">G</text>
<line x1="207.40" y1="479.30" x2="207.40" y2="573.00" stroke="#000" stroke-width="1.3"/>
<line x1="204.20" y1="572.40" x2="207.40" y2="572.40" stroke="#000" stroke-width="1.1"/>
<text x="196.54" y="574.90" font-size="7.91" textLength="5.12" lengthAdjust="spacingAndGlyphs">0</text>
<line x1="204.20" y1="554.40" x2="207.40" y2="554.40" stroke="#000" stroke-width="1.1"/>
<text x="196.53" y="556.90" font-size="7.91" textLength="5.16" lengthAdjust="spacingAndGlyphs">5</text>
<line x1="204.20" y1="536.40" x2="207.40" y2="536.40" stroke="#000" stroke-width="1.1"/>
<text x="191.07" y="538.90" font-size="7.91" textLength="10.60" lengthAdjust="spacingAndGlyphs">10</text>
<line x1="204.20" y1="518.40" x2="207.40" y2="518.40" stroke="#000" stroke-width="1.1"/>
<text x="191.07" y="520.90" font-size="7.91" textLength="10.63" lengthAdjust="spacingAndGlyphs">15</text>
<line x1="204.20" y1="500.40" x2="207.40" y2="500.40" stroke="#000" stroke-width="1.1"/>
<text x="191.33" y="502.90" font-size="7.91" textLength="10.33" lengthAdjust="spacingAndGlyphs">20</text>
<line x1="204.20" y1="482.40" x2="207.40" y2="482.40" stroke="#000" stroke-width="1.1"/>
<text x="191.33" y="484.90" font-size="7.91" textLength="10.36" lengthAdjust="spacingAndGlyphs">25</text>
<line x1="204.40" y1="572.40" x2="282.30" y2="572.40" stroke="#000" stroke-width="1.3"/>
<line x1="219.20" y1="572.40" x2="219.20" y2="575.80" stroke="#000" stroke-width="1"/>
<line x1="244.40" y1="572.40" x2="244.40" y2="575.80" stroke="#000" stroke-width="1"/>
<line x1="269.20" y1="572.40" x2="269.20" y2="575.80" stroke="#000" stroke-width="1"/>
<text transform="translate(183.10,567.80) rotate(-90)" x="-0.21" y="0" font-size="8.2" textLength="83.97" lengthAdjust="spacingAndGlyphs" stroke="#000" stroke-width="0.18">% human &#947;-globin (HPLC)</text>
<rect x="211.30" y="563.60" width="4.00" height="4.00" fill="#fff" stroke="#A5002F" stroke-width="1.3"/>
<rect x="214.20" y="563.60" width="4.00" height="4.00" fill="#fff" stroke="#A5002F" stroke-width="1.3"/>
<line x1="213.20" y1="565.60" x2="216.60" y2="565.60" stroke="#000" stroke-width="1.4"/>
<rect x="221.80" y="548.20" width="5.2" height="5.2" fill="#1E3F80"/>
<rect x="221.80" y="551.00" width="5.2" height="5.2" fill="#1E3F80"/>
<rect x="220.60" y="555.30" width="5.2" height="5.2" fill="#1E3F80"/>
<rect x="223.00" y="555.30" width="5.2" height="5.2" fill="#1E3F80"/>
<line x1="221.00" y1="556.30" x2="227.90" y2="556.30" stroke="#000" stroke-width="1.4"/>
<rect x="236.60" y="559.70" width="4.00" height="4.00" fill="#fff" stroke="#A5002F" stroke-width="1.3"/>
<rect x="238.40" y="562.20" width="4.00" height="4.00" fill="#fff" stroke="#A5002F" stroke-width="1.3"/>
<line x1="236.80" y1="563.10" x2="242.40" y2="563.10" stroke="#000" stroke-width="1.4"/>
<rect x="246.35" y="527.35" width="5.3" height="5.3" fill="#1E3F80"/>
<rect x="246.15" y="550.55" width="5.3" height="5.3" fill="#1E3F80"/>
<rect x="246.95" y="553.95" width="5.3" height="5.3" fill="#1E3F80"/>
<rect x="245.95" y="551.85" width="5.3" height="5.3" fill="#1E3F80"/>
<line x1="246.00" y1="554.00" x2="252.30" y2="554.00" stroke="#000" stroke-width="1.4"/>
<rect x="262.60" y="555.20" width="4.00" height="4.00" fill="#fff" stroke="#A5002F" stroke-width="1.3"/>
<rect x="263.00" y="559.00" width="4.00" height="4.00" fill="#fff" stroke="#A5002F" stroke-width="1.3"/>
<line x1="261.60" y1="558.20" x2="267.60" y2="558.20" stroke="#000" stroke-width="1.4"/>
<rect x="271.30" y="497.60" width="5.4" height="5.4" fill="#1E3F80"/>
<rect x="271.30" y="505.00" width="5.4" height="5.4" fill="#1E3F80"/>
<rect x="271.30" y="523.50" width="5.4" height="5.4" fill="#1E3F80"/>
<rect x="271.30" y="530.70" width="5.4" height="5.4" fill="#1E3F80"/>
<line x1="271.20" y1="516.90" x2="277.20" y2="516.90" stroke="#333" stroke-width="1.4"/>
<text transform="translate(203.63,602.17) rotate(-45)" x="-0.23" y="0" font-size="9.2" textLength="27.92" lengthAdjust="spacingAndGlyphs">hu&#947;/m&#945;</text>
<text transform="translate(228.73,602.17) rotate(-45)" x="-0.23" y="0" font-size="9.2" textLength="27.92" lengthAdjust="spacingAndGlyphs">hu&#947;/m&#946;</text>
<text transform="translate(252.20,603.80) rotate(-45)" x="-0.24" y="0" font-size="9.2" textLength="30.24" lengthAdjust="spacingAndGlyphs">hu&#947;/hu&#946;</text>
<text x="298.59" y="454.50" font-size="12.0" textLength="9.83" lengthAdjust="spacingAndGlyphs" font-weight="bold">H</text>
<line x1="342.40" y1="479.30" x2="342.40" y2="573.00" stroke="#000" stroke-width="1.3"/>
<line x1="339.20" y1="572.40" x2="342.40" y2="572.40" stroke="#000" stroke-width="1.1"/>
<text x="331.54" y="574.90" font-size="7.91" textLength="5.12" lengthAdjust="spacingAndGlyphs">0</text>
<line x1="339.20" y1="542.40" x2="342.40" y2="542.40" stroke="#000" stroke-width="1.1"/>
<text x="326.07" y="544.90" font-size="7.91" textLength="10.60" lengthAdjust="spacingAndGlyphs">10</text>
<line x1="339.20" y1="512.40" x2="342.40" y2="512.40" stroke="#000" stroke-width="1.1"/>
<text x="326.33" y="514.90" font-size="7.91" textLength="10.33" lengthAdjust="spacingAndGlyphs">20</text>
<line x1="339.20" y1="482.40" x2="342.40" y2="482.40" stroke="#000" stroke-width="1.1"/>
<text x="326.45" y="484.90" font-size="7.91" textLength="10.21" lengthAdjust="spacingAndGlyphs">30</text>
<line x1="339.50" y1="572.40" x2="417.70" y2="572.40" stroke="#000" stroke-width="1.3"/>
<line x1="354.50" y1="572.40" x2="354.50" y2="575.40" stroke="#000" stroke-width="1"/>
<line x1="379.90" y1="572.40" x2="379.90" y2="575.40" stroke="#000" stroke-width="1"/>
<line x1="404.60" y1="572.40" x2="404.60" y2="575.40" stroke="#000" stroke-width="1"/>
<text transform="translate(320.10,566.20) rotate(-90)" x="-0.58" y="0" font-size="8.5" textLength="82.03" lengthAdjust="spacingAndGlyphs" stroke="#000" stroke-width="0.18">HBG mRNA (fold change)</text>
<rect x="348.10" y="567.10" width="4.60" height="4.60" fill="#fff" stroke="#A5002F" stroke-width="1.3"/>
<line x1="348.40" y1="569.40" x2="352.40" y2="569.40" stroke="#000" stroke-width="1.4"/>
<rect x="356.90" y="533.60" width="5.2" height="5.2" fill="#1E3F80"/>
<rect x="356.90" y="542.80" width="5.2" height="5.2" fill="#1E3F80"/>
<rect x="358.20" y="548.20" width="5.2" height="5.2" fill="#1E3F80"/>
<rect x="355.90" y="552.00" width="5.2" height="5.2" fill="#1E3F80"/>
<rect x="356.90" y="545.40" width="5.2" height="5.2" fill="#1E3F80"/>
<line x1="356.50" y1="548.80" x2="363.10" y2="548.80" stroke="#000" stroke-width="1.4"/>
<rect x="373.10" y="567.10" width="4.60" height="4.60" fill="#fff" stroke="#A5002F" stroke-width="1.3"/>
<line x1="373.40" y1="569.40" x2="377.40" y2="569.40" stroke="#000" stroke-width="1.4"/>
<rect x="382.00" y="541.20" width="5.2" height="5.2" fill="#1E3F80"/>
<rect x="382.00" y="545.10" width="5.2" height="5.2" fill="#1E3F80"/>
<rect x="383.20" y="551.20" width="5.2" height="5.2" fill="#1E3F80"/>
<rect x="381.20" y="555.10" width="5.2" height="5.2" fill="#1E3F80"/>
<rect x="382.40" y="547.90" width="5.2" height="5.2" fill="#1E3F80"/>
<line x1="381.50" y1="551.50" x2="388.10" y2="551.50" stroke="#000" stroke-width="1.4"/>
<rect x="398.00" y="567.10" width="4.60" height="4.60" fill="#fff" stroke="#A5002F" stroke-width="1.3"/>
<line x1="398.30" y1="569.40" x2="402.30" y2="569.40" stroke="#000" stroke-width="1.4"/>
<rect x="406.90" y="493.60" width="5.2" height="5.2" fill="#1E3F80"/>
<rect x="406.20" y="513.20" width="5.2" height="5.2" fill="#1E3F80"/>
<rect x="408.20" y="516.30" width="5.2" height="5.2" fill="#1E3F80"/>
<rect x="406.90" y="531.20" width="5.2" height="5.2" fill="#1E3F80"/>
<line x1="406.70" y1="517.40" x2="413.30" y2="517.40" stroke="#000" stroke-width="1.4"/>
<text transform="translate(320.43,619.17) rotate(-45)" x="-0.62" y="0" font-size="8.8" textLength="52.64" lengthAdjust="spacingAndGlyphs">hHBG/mHBA</text>
<text transform="translate(345.53,619.17) rotate(-45)" x="-0.63" y="0" font-size="8.8" textLength="53.10" lengthAdjust="spacingAndGlyphs">hHBG/mHBB</text>
<text transform="translate(370.94,618.46) rotate(-45)" x="-0.64" y="0" font-size="8.8" textLength="52.13" lengthAdjust="spacingAndGlyphs">hHBG/hHBB</text>
<text x="433.74" y="454.80" font-size="12.0" textLength="4.82" lengthAdjust="spacingAndGlyphs" font-weight="bold">I</text>
<line x1="467.10" y1="480.00" x2="467.10" y2="572.90" stroke="#000" stroke-width="1.3"/>
<line x1="463.90" y1="572.30" x2="467.10" y2="572.30" stroke="#000" stroke-width="1.1"/>
<text x="455.94" y="574.80" font-size="7.91" textLength="5.12" lengthAdjust="spacingAndGlyphs">0</text>
<line x1="463.90" y1="542.20" x2="467.10" y2="542.20" stroke="#000" stroke-width="1.1"/>
<text x="457.64" y="544.70" font-size="7.91" textLength="3.35" lengthAdjust="spacingAndGlyphs">1</text>
<line x1="463.90" y1="512.10" x2="467.10" y2="512.10" stroke="#000" stroke-width="1.1"/>
<text x="455.81" y="514.60" font-size="7.91" textLength="5.37" lengthAdjust="spacingAndGlyphs">2</text>
<line x1="463.90" y1="482.00" x2="467.10" y2="482.00" stroke="#000" stroke-width="1.1"/>
<text x="455.95" y="484.50" font-size="7.91" textLength="5.16" lengthAdjust="spacingAndGlyphs">3</text>
<line x1="467.10" y1="572.30" x2="512.10" y2="572.30" stroke="#000" stroke-width="1.3"/>
<line x1="489.50" y1="572.30" x2="489.50" y2="575.90" stroke="#000" stroke-width="1"/>
<text transform="translate(449.80,553.70) rotate(-90)" x="-0.03" y="0" font-size="8.5" textLength="55.58" lengthAdjust="spacingAndGlyphs" stroke="#000" stroke-width="0.18">VCN (copies/cell)</text>
<rect x="487.00" y="496.30" width="5.2" height="5.2" fill="#1E3F80"/>
<rect x="487.00" y="521.90" width="5.2" height="5.2" fill="#1E3F80"/>
<rect x="487.00" y="532.10" width="5.2" height="5.2" fill="#1E3F80"/>
<rect x="487.00" y="552.40" width="5.2" height="5.2" fill="#1E3F80"/>
<line x1="475.20" y1="528.30" x2="504.50" y2="528.30" stroke="#000" stroke-width="1.4"/>
<line x1="489.50" y1="516.30" x2="489.50" y2="539.70" stroke="#000" stroke-width="1.3"/>
<line x1="482.30" y1="516.50" x2="497.00" y2="516.50" stroke="#000" stroke-width="1.3"/>
<line x1="482.30" y1="539.50" x2="497.00" y2="539.50" stroke="#000" stroke-width="1.3"/>
</svg></div></body></html>
